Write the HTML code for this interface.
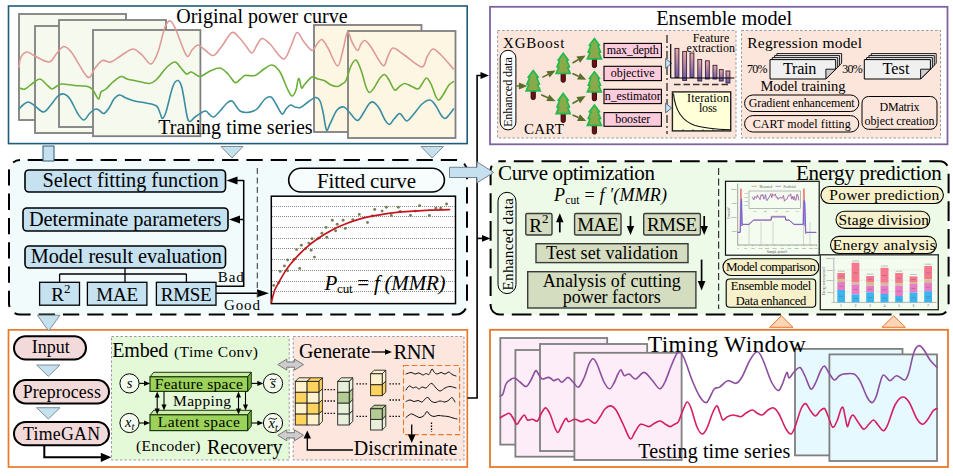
<!DOCTYPE html>
<html><head><meta charset="utf-8"><title>Framework</title>
<style>
html,body{margin:0;padding:0;background:#fff;}
body{width:953px;height:476px;overflow:hidden;font-family:"Liberation Serif",serif;}
svg{display:block;}
svg text{font-family:"Liberation Serif",serif;}
</style></head><body>
<svg width="953" height="476" viewBox="0 0 953 476">
<defs>
<linearGradient id="barg" x1="0" y1="0" x2="0" y2="1"><stop offset="0" stop-color="#EFA8A0"/><stop offset="1" stop-color="#6E55A8"/></linearGradient>
<linearGradient id="treeg" x1="0" y1="0" x2="0" y2="1"><stop offset="0" stop-color="#7FB24E"/><stop offset="1" stop-color="#8FA548"/></linearGradient>
</defs>
<rect x="0" y="0" width="953" height="476" fill="#fff"/>

<rect x="8.5" y="6.0" width="458.7" height="137.6" fill="#fff" stroke="#1F5C7A" stroke-width="1.6" rx="0" />
<rect x="19.0" y="14.0" width="107.0" height="106.0" fill="#F6F9EE" stroke="#7F7F7F" stroke-width="1.8" rx="0" />
<rect x="35.0" y="26.0" width="107.0" height="107.0" fill="#F6F9EE" stroke="#7F7F7F" stroke-width="1.8" rx="0" />
<rect x="59.0" y="20.0" width="107.0" height="107.0" fill="#F6F9EE" stroke="#7F7F7F" stroke-width="1.8" rx="0" />
<rect x="93.0" y="30.0" width="107.4" height="106.2" fill="#F6F9EE" stroke="#7F7F7F" stroke-width="1.8" rx="0" />
<rect x="314.0" y="25.0" width="107.5" height="107.0" fill="#FDF6E3" stroke="#7F7F7F" stroke-width="1.8" rx="0" />
<rect x="348.0" y="31.0" width="107.5" height="107.0" fill="#FDF6E3" stroke="#7F7F7F" stroke-width="1.8" rx="0" />
<path d="M19.0,67.0 C19.3,65.3 19.7,59.5 21.0,57.0 C22.3,54.5 24.8,52.2 27.0,52.0 C29.2,51.8 30.3,53.8 34.0,55.5 C37.7,57.2 45.2,62.4 49.0,62.0 C52.8,61.6 54.5,55.6 57.0,53.0 C59.5,50.4 61.5,46.5 64.0,46.5 C66.5,46.5 68.1,47.9 72.0,53.0 C75.9,58.1 83.7,74.5 87.5,77.0 C91.3,79.5 92.5,70.8 95.0,68.0 C97.5,65.2 99.8,61.5 102.5,60.5 C105.2,59.5 107.8,62.9 111.0,62.0 C114.2,61.1 118.3,57.2 122.0,55.0 C125.7,52.8 129.7,49.0 133.0,49.0 C136.3,49.0 139.0,52.5 142.0,55.0 C145.0,57.5 148.3,64.5 151.0,64.0 C153.7,63.5 155.7,58.2 158.0,52.0 C160.3,45.8 162.9,32.2 165.0,27.0 C167.1,21.8 168.7,20.5 170.5,21.0 C172.3,21.5 173.3,24.2 176.0,30.0 C178.7,35.8 183.8,52.2 186.5,55.5 C189.2,58.8 190.1,51.8 192.0,50.0 C193.9,48.2 195.8,45.0 198.0,45.0 C200.2,45.0 202.4,48.2 205.0,50.0 C207.6,51.8 210.7,56.2 213.5,55.5 C216.3,54.8 218.9,49.8 222.0,46.0 C225.1,42.2 229.0,33.8 232.0,32.5 C235.0,31.2 237.7,36.2 240.0,38.5 C242.3,40.8 244.0,43.6 246.0,46.0 C248.0,48.4 250.2,53.2 252.0,53.0 C253.8,52.8 255.3,47.4 257.0,45.0 C258.7,42.6 259.8,38.7 262.0,38.5 C264.2,38.3 266.4,40.6 270.0,44.0 C273.6,47.4 280.0,58.7 283.5,59.0 C287.0,59.3 288.8,50.4 291.0,46.0 C293.2,41.6 294.8,33.2 297.0,32.5 C299.2,31.8 301.5,39.0 304.0,42.0 C306.5,45.0 309.8,50.2 312.0,50.5 C314.2,50.8 315.3,45.8 317.0,44.0 C318.7,42.2 320.2,38.8 322.0,39.5 C323.8,40.2 325.4,43.6 328.0,48.0 C330.6,52.4 335.0,65.7 337.5,66.0 C340.0,66.3 341.3,55.7 343.0,50.0 C344.7,44.3 346.0,33.3 347.5,32.0 C349.0,30.7 350.3,38.9 352.0,42.0 C353.7,45.1 356.0,50.2 357.5,50.5 C359.0,50.8 359.8,45.7 361.0,44.0 C362.2,42.3 363.3,40.0 365.0,40.5 C366.7,41.0 368.0,42.8 371.0,47.0 C374.0,51.2 380.2,64.0 383.0,65.5 C385.8,67.0 386.3,58.9 388.0,56.0 C389.7,53.1 390.5,48.3 393.0,48.0 C395.5,47.7 398.2,50.8 403.0,54.0 C407.8,57.2 417.5,66.5 421.5,67.0 C425.5,67.5 425.1,60.0 427.0,57.0 C428.9,54.0 430.7,49.3 433.0,49.0 C435.3,48.7 437.6,51.7 441.0,55.0 C444.4,58.3 451.4,66.7 453.5,69.0" fill="none" stroke="#DE9A97" stroke-width="1.6" stroke-linecap="round" stroke-linejoin="round" />
<path d="M19.0,88.0 C20.0,88.2 22.7,89.8 25.0,89.0 C27.3,88.2 30.5,84.7 33.0,83.0 C35.5,81.3 37.8,78.8 40.0,79.0 C42.2,79.2 44.0,82.3 46.0,84.0 C48.0,85.7 50.2,88.7 52.0,89.0 C53.8,89.3 55.3,86.8 57.0,86.0 C58.7,85.2 59.0,84.1 62.0,84.0 C65.0,83.9 70.8,85.1 75.0,85.5 C79.2,85.9 84.5,85.8 87.5,86.5 C90.5,87.2 91.2,87.9 93.0,90.0 C94.8,92.1 97.2,98.7 98.5,99.0 C99.8,99.3 99.8,93.7 101.0,92.0 C102.2,90.3 104.0,90.7 106.0,89.0 C108.0,87.3 110.5,84.1 113.0,82.0 C115.5,79.9 118.7,77.0 121.0,76.5 C123.3,76.0 124.8,78.3 127.0,79.0 C129.2,79.7 130.8,79.8 134.5,80.5 C138.2,81.2 145.8,83.8 149.5,83.5 C153.2,83.2 154.1,81.8 157.0,79.0 C159.9,76.2 164.0,69.8 167.0,67.0 C170.0,64.2 172.7,61.8 175.0,62.0 C177.3,62.2 179.1,66.0 181.0,68.0 C182.9,70.0 184.8,73.3 186.5,74.0 C188.2,74.7 189.2,71.6 191.5,72.0 C193.8,72.4 196.9,76.7 200.0,76.5 C203.1,76.3 206.7,72.4 210.0,71.0 C213.3,69.6 217.0,67.5 220.0,68.0 C223.0,68.5 225.5,71.6 228.0,74.0 C230.5,76.4 233.0,81.6 235.0,82.5 C237.0,83.4 238.3,80.7 240.0,79.5 C241.7,78.3 242.5,76.2 245.0,75.5 C247.5,74.8 251.8,76.6 255.0,75.5 C258.2,74.4 261.2,70.8 264.0,69.0 C266.8,67.2 269.3,64.5 272.0,65.0 C274.7,65.5 277.5,68.2 280.0,72.0 C282.5,75.8 285.0,84.0 287.0,88.0 C289.0,92.0 290.5,95.7 292.0,96.0 C293.5,96.3 295.0,92.7 296.0,90.0 C297.0,87.3 297.4,81.8 298.0,80.0 C298.6,78.2 298.9,78.2 299.5,79.5 C300.1,80.8 300.6,87.2 301.5,88.0 C302.4,88.8 303.2,85.8 305.0,84.0 C306.8,82.2 309.8,77.8 312.0,77.0 C314.2,76.2 316.0,78.4 318.0,79.0 C320.0,79.6 321.8,79.5 324.0,80.5 C326.2,81.5 328.8,84.0 331.0,85.0 C333.2,86.0 335.7,86.7 337.5,86.5 C339.3,86.3 340.6,85.0 342.0,84.0 C343.4,83.0 344.5,83.5 346.0,80.5 C347.5,77.5 349.3,69.4 351.0,66.0 C352.7,62.6 354.3,59.3 356.0,60.0 C357.7,60.7 359.3,65.5 361.0,70.0 C362.7,74.5 364.6,83.2 366.0,87.0 C367.4,90.8 368.2,92.3 369.5,92.5 C370.8,92.7 372.2,90.4 374.0,88.0 C375.8,85.6 378.2,80.2 380.0,78.0 C381.8,75.8 383.0,74.2 384.5,74.5 C386.0,74.8 387.3,77.4 389.0,80.0 C390.7,82.6 392.8,88.8 394.5,90.0 C396.2,91.2 397.3,88.1 399.0,87.0 C400.7,85.9 402.5,83.7 404.5,83.5 C406.5,83.3 408.8,85.1 411.0,86.0 C413.2,86.9 416.2,89.3 418.0,89.0 C419.8,88.7 420.6,85.8 422.0,84.0 C423.4,82.2 425.0,78.0 426.5,78.0 C428.0,78.0 429.4,80.8 431.0,84.0 C432.6,87.2 434.7,94.3 436.0,97.0 C437.3,99.7 437.8,100.3 439.0,100.0 C440.2,99.7 441.3,97.5 443.0,95.0 C444.7,92.5 447.2,87.2 449.0,85.0 C450.8,82.8 452.8,82.1 453.5,81.5" fill="none" stroke="#6BAE38" stroke-width="1.6" stroke-linecap="round" stroke-linejoin="round" />
<path d="M19.0,109.0 C19.7,108.3 21.4,106.2 23.0,105.0 C24.6,103.8 26.5,101.8 28.5,102.0 C30.5,102.2 32.5,104.3 35.0,106.0 C37.5,107.7 41.0,112.0 43.5,112.0 C46.0,112.0 47.6,108.7 50.0,106.0 C52.4,103.3 55.7,98.0 58.0,96.0 C60.3,94.0 62.0,93.5 64.0,94.0 C66.0,94.5 67.7,95.7 70.0,99.0 C72.3,102.3 75.7,110.5 78.0,114.0 C80.3,117.5 82.0,120.2 84.0,120.0 C86.0,119.8 88.0,114.8 90.0,113.0 C92.0,111.2 94.3,109.3 96.0,109.0 C97.7,108.7 98.7,110.2 100.0,111.0 C101.3,111.8 102.5,114.0 104.0,113.5 C105.5,113.0 107.3,110.4 109.0,108.0 C110.7,105.6 112.2,101.2 114.0,99.0 C115.8,96.8 117.5,95.2 119.5,95.0 C121.5,94.8 123.5,97.0 126.0,98.0 C128.5,99.0 131.2,100.2 134.5,101.0 C137.8,101.8 142.3,102.2 146.0,103.0 C149.7,103.8 154.2,104.3 156.5,106.0 C158.8,107.7 159.0,110.9 160.0,113.0 C161.0,115.1 161.5,118.7 162.5,118.5 C163.5,118.3 164.2,117.4 166.0,112.0 C167.8,106.6 171.0,91.2 173.0,86.0 C175.0,80.8 176.5,80.2 178.0,80.5 C179.5,80.8 180.5,82.1 182.0,88.0 C183.5,93.9 185.7,110.4 187.0,116.0 C188.3,121.6 188.7,121.3 190.0,121.5 C191.3,121.7 192.5,118.8 195.0,117.0 C197.5,115.2 202.7,111.5 205.0,111.0 C207.3,110.5 207.6,113.0 209.0,114.0 C210.4,115.0 211.7,117.5 213.5,117.0 C215.3,116.5 217.8,113.3 220.0,111.0 C222.2,108.7 225.0,104.7 227.0,103.0 C229.0,101.3 230.5,100.5 232.0,101.0 C233.5,101.5 234.7,104.3 236.0,106.0 C237.3,107.7 238.2,109.9 240.0,111.0 C241.8,112.1 244.2,112.5 246.5,112.5 C248.8,112.5 251.6,111.8 253.5,111.0 C255.4,110.2 256.1,110.0 258.0,108.0 C259.9,106.0 262.8,100.8 265.0,99.0 C267.2,97.2 269.2,96.2 271.0,97.0 C272.8,97.8 274.2,101.2 276.0,104.0 C277.8,106.8 280.3,113.2 282.0,114.0 C283.7,114.8 284.6,110.5 286.0,109.0 C287.4,107.5 289.0,105.3 290.5,105.0 C292.0,104.7 293.3,106.6 295.0,107.0 C296.7,107.4 298.3,108.3 300.5,107.5 C302.7,106.7 305.5,103.7 308.0,102.0 C310.5,100.3 313.5,97.7 315.5,97.5 C317.5,97.3 318.8,98.6 320.0,101.0 C321.2,103.4 321.9,107.2 323.0,112.0 C324.1,116.8 325.3,128.0 326.5,130.0 C327.7,132.0 328.2,127.3 330.0,124.0 C331.8,120.7 334.7,112.8 337.0,110.0 C339.3,107.2 341.8,106.5 344.0,107.0 C346.2,107.5 347.8,110.8 350.0,113.0 C352.2,115.2 355.2,120.7 357.5,120.5 C359.8,120.3 362.1,114.8 364.0,112.0 C365.9,109.2 367.5,105.7 369.0,104.0 C370.5,102.3 371.3,101.3 373.0,102.0 C374.7,102.7 377.0,105.0 379.0,108.0 C381.0,111.0 383.2,117.2 385.0,120.0 C386.8,122.8 388.0,124.7 389.5,124.5 C391.0,124.3 392.3,120.8 394.0,119.0 C395.7,117.2 398.0,113.8 399.5,113.5 C401.0,113.2 401.8,115.8 403.0,117.0 C404.2,118.2 405.3,121.3 407.0,121.0 C408.7,120.7 410.5,117.8 413.0,115.0 C415.5,112.2 419.2,106.5 422.0,104.0 C424.8,101.5 427.7,99.7 430.0,100.0 C432.3,100.3 434.2,103.5 436.0,106.0 C437.8,108.5 439.5,112.9 441.0,115.0 C442.5,117.1 443.7,118.5 445.0,118.5 C446.3,118.5 447.6,116.6 449.0,115.0 C450.4,113.4 452.8,110.0 453.5,109.0" fill="none" stroke="#3A8CA3" stroke-width="1.6" stroke-linecap="round" stroke-linejoin="round" />
<text x="176.2" y="23.4" font-size="20" fill="#000" textLength="171.5" lengthAdjust="spacing" >Original power curve</text>
<text x="158.3" y="134.3" font-size="20" fill="#000" textLength="154.3" lengthAdjust="spacing" >Traning time series</text>
<rect x="9" y="160" width="458" height="154.6" rx="11" fill="#F1FBFC" stroke="#000" stroke-width="2" stroke-dasharray="16.3 8" stroke-dashoffset="16.6"/>
<rect x="43.0" y="146.0" width="11.0" height="15.0" fill="#C6E0F0" stroke="#2F5A78" stroke-width="1" rx="0" />
<path d="M221.0,146.5 L243.0,146.5 L232.0,158.0 Z" fill="#C5E1EE" stroke="#7E8E9A" stroke-width="1" stroke-linejoin="miter" />
<path d="M421.0,146.5 L443.5,146.5 L432.2,158.0 Z" fill="#C5E1EE" stroke="#7E8E9A" stroke-width="1" stroke-linejoin="miter" />
<rect x="25.0" y="170.0" width="200.5" height="22.0" fill="#C6E1F0" stroke="#000" stroke-width="1.6" rx="4" />
<rect x="23.0" y="208.0" width="205.0" height="23.0" fill="#C6E1F0" stroke="#000" stroke-width="1.6" rx="4" />
<rect x="25.0" y="246.0" width="200.5" height="22.0" fill="#C6E1F0" stroke="#000" stroke-width="1.6" rx="4" />
<text x="130.6" y="187.3" font-size="20.3" fill="#000" textLength="176.0" lengthAdjust="spacing" text-anchor="middle" >Select fitting function</text>
<text x="125.2" y="225.6" font-size="20.3" fill="#000" textLength="192.5" lengthAdjust="spacing" text-anchor="middle" >Determinate parameters</text>
<text x="126.3" y="263.3" font-size="20.3" fill="#000" textLength="191.0" lengthAdjust="spacing" text-anchor="middle" >Model result evaluation</text>
<line x1="125.0" y1="268.0" x2="125.0" y2="274.0" stroke="#000" stroke-width="1.3" />
<line x1="59.6" y1="274.0" x2="186.4" y2="274.0" stroke="#000" stroke-width="1.3" />
<line x1="59.6" y1="274.0" x2="59.6" y2="282.0" stroke="#000" stroke-width="1.3" />
<line x1="125.0" y1="274.0" x2="125.0" y2="282.0" stroke="#000" stroke-width="1.3" />
<line x1="186.4" y1="274.0" x2="186.4" y2="282.0" stroke="#000" stroke-width="1.3" />
<rect x="39.6" y="282.3" width="39.9" height="22.9" fill="#C6E1F0" stroke="#000" stroke-width="1.3" rx="0" />
<rect x="87.4" y="282.3" width="59.5" height="22.9" fill="#C6E1F0" stroke="#000" stroke-width="1.3" rx="0" />
<rect x="156.4" y="282.3" width="59.6" height="22.9" fill="#C6E1F0" stroke="#000" stroke-width="1.3" rx="0" />
<text x="51.3" y="301" font-size="19">R<tspan font-size="13" dy="-8.3">2</tspan></text>
<text x="117.2" y="300.5" font-size="19" fill="#000" textLength="42.0" lengthAdjust="spacing" text-anchor="middle" >MAE</text>
<text x="186.2" y="300.5" font-size="19" fill="#000" textLength="51.0" lengthAdjust="spacing" text-anchor="middle" >RMSE</text>
<path d="M216,286.3 H243.7 V180" fill="none" stroke="#000" stroke-width="1.5"/>
<line x1="243.7" y1="180.5" x2="234.0" y2="180.5" stroke="#000" stroke-width="1.5" />
<path d="M226.5,180.5 L237.5,176.5 L237.5,184.5 Z" fill="#000" stroke="none" stroke-width="0" stroke-linejoin="miter" />
<line x1="243.7" y1="219.5" x2="236.0" y2="219.5" stroke="#000" stroke-width="1.5" />
<path d="M229.0,219.5 L240.0,215.5 L240.0,223.5 Z" fill="#000" stroke="none" stroke-width="0" stroke-linejoin="miter" />
<line x1="216.0" y1="293.2" x2="260.0" y2="293.2" stroke="#000" stroke-width="1.5" />
<path d="M269.0,293.2 L257.0,289.2 L257.0,297.2 Z" fill="#000" stroke="none" stroke-width="0" stroke-linejoin="miter" />
<text x="217.8" y="282.2" font-size="15" fill="#000" textLength="26.0" lengthAdjust="spacing" >Bad</text>
<text x="224.0" y="310.0" font-size="15" fill="#000" textLength="36.0" lengthAdjust="spacing" >Good</text>
<line x1="257.3" y1="168.0" x2="257.3" y2="300.0" stroke="#444" stroke-width="1.1" stroke-dasharray="6 3.5"/>
<rect x="288.7" y="168.3" width="155.7" height="23.7" fill="#F7FCFD" stroke="#000" stroke-width="1.6" rx="12" />
<text x="366.5" y="188.0" font-size="21" fill="#000" textLength="99.0" lengthAdjust="spacing" text-anchor="middle" >Fitted curve</text>
<rect x="271.3" y="196.2" width="184.2" height="107.4" fill="#fff" stroke="#000" stroke-width="1.5" rx="0" />
<line x1="272.0" y1="206.5" x2="455.0" y2="206.5" stroke="#8A8A8A" stroke-width="1" stroke-dasharray="1 1" shape-rendering="crispEdges"/>
<line x1="272.0" y1="216.5" x2="455.0" y2="216.5" stroke="#8A8A8A" stroke-width="1" stroke-dasharray="1 1" shape-rendering="crispEdges"/>
<line x1="272.0" y1="227.5" x2="455.0" y2="227.5" stroke="#8A8A8A" stroke-width="1" stroke-dasharray="1 1" shape-rendering="crispEdges"/>
<line x1="272.0" y1="238.5" x2="455.0" y2="238.5" stroke="#8A8A8A" stroke-width="1" stroke-dasharray="1 1" shape-rendering="crispEdges"/>
<line x1="272.0" y1="248.5" x2="455.0" y2="248.5" stroke="#8A8A8A" stroke-width="1" stroke-dasharray="1 1" shape-rendering="crispEdges"/>
<line x1="272.0" y1="259.5" x2="455.0" y2="259.5" stroke="#8A8A8A" stroke-width="1" stroke-dasharray="1 1" shape-rendering="crispEdges"/>
<line x1="272.0" y1="270.5" x2="455.0" y2="270.5" stroke="#8A8A8A" stroke-width="1" stroke-dasharray="1 1" shape-rendering="crispEdges"/>
<line x1="272.0" y1="281.5" x2="455.0" y2="281.5" stroke="#8A8A8A" stroke-width="1" stroke-dasharray="1 1" shape-rendering="crispEdges"/>
<line x1="272.0" y1="291.5" x2="455.0" y2="291.5" stroke="#8A8A8A" stroke-width="1" stroke-dasharray="1 1" shape-rendering="crispEdges"/>
<circle cx="273.7" cy="285.4" r="1.45" fill="#73805A"/>
<circle cx="278.6" cy="282.8" r="1.45" fill="#73805A"/>
<circle cx="280.2" cy="271.4" r="1.45" fill="#73805A"/>
<circle cx="284.4" cy="265.9" r="1.45" fill="#73805A"/>
<circle cx="287.7" cy="270.7" r="1.45" fill="#73805A"/>
<circle cx="287.7" cy="260.0" r="1.45" fill="#73805A"/>
<circle cx="294.2" cy="259.3" r="1.45" fill="#73805A"/>
<circle cx="296.5" cy="249.6" r="1.45" fill="#73805A"/>
<circle cx="299.7" cy="268.5" r="1.45" fill="#73805A"/>
<circle cx="301.4" cy="245.3" r="1.45" fill="#73805A"/>
<circle cx="305.6" cy="248.6" r="1.45" fill="#73805A"/>
<circle cx="308.9" cy="243.1" r="1.45" fill="#73805A"/>
<circle cx="311.1" cy="250.2" r="1.45" fill="#73805A"/>
<circle cx="312.1" cy="238.8" r="1.45" fill="#73805A"/>
<circle cx="314.4" cy="257.1" r="1.45" fill="#73805A"/>
<circle cx="318.6" cy="238.2" r="1.45" fill="#73805A"/>
<circle cx="321.9" cy="233.3" r="1.45" fill="#73805A"/>
<circle cx="326.1" cy="227.4" r="1.45" fill="#73805A"/>
<circle cx="326.8" cy="237.2" r="1.45" fill="#73805A"/>
<circle cx="332.3" cy="220.3" r="1.45" fill="#73805A"/>
<circle cx="335.6" cy="230.7" r="1.45" fill="#73805A"/>
<circle cx="337.2" cy="224.2" r="1.45" fill="#73805A"/>
<circle cx="343.1" cy="220.3" r="1.45" fill="#73805A"/>
<circle cx="345.3" cy="228.4" r="1.45" fill="#73805A"/>
<circle cx="352.8" cy="219.6" r="1.45" fill="#73805A"/>
<circle cx="359.3" cy="214.4" r="1.45" fill="#73805A"/>
<circle cx="367.5" cy="222.5" r="1.45" fill="#73805A"/>
<circle cx="372.4" cy="216.0" r="1.45" fill="#73805A"/>
<circle cx="374.7" cy="209.5" r="1.45" fill="#73805A"/>
<circle cx="382.1" cy="211.1" r="1.45" fill="#73805A"/>
<circle cx="386.4" cy="207.2" r="1.45" fill="#73805A"/>
<circle cx="391.3" cy="215.4" r="1.45" fill="#73805A"/>
<circle cx="398.4" cy="207.2" r="1.45" fill="#73805A"/>
<circle cx="400.1" cy="211.5" r="1.45" fill="#73805A"/>
<circle cx="410.5" cy="215.4" r="1.45" fill="#73805A"/>
<circle cx="415.4" cy="211.1" r="1.45" fill="#73805A"/>
<circle cx="419.6" cy="205.6" r="1.45" fill="#73805A"/>
<circle cx="429.4" cy="215.4" r="1.45" fill="#73805A"/>
<circle cx="435.9" cy="208.2" r="1.45" fill="#73805A"/>
<circle cx="440.8" cy="208.2" r="1.45" fill="#73805A"/>
<circle cx="446.6" cy="204.0" r="1.45" fill="#73805A"/>
<path d="M271.4,302.3 C271.9,300.3 273.3,293.8 274.7,290.3 C276.1,286.8 277.6,284.6 279.5,281.2 C281.4,277.8 283.8,273.4 286.0,270.1 C288.2,266.8 290.2,264.5 292.6,261.6 C295.1,258.7 298.0,255.5 300.7,252.8 C303.4,250.1 306.2,247.6 308.9,245.3 C311.6,243.0 314.3,241.1 317.0,239.2 C319.7,237.3 322.1,235.7 325.1,233.9 C328.1,232.1 331.6,230.0 334.9,228.4 C338.2,226.8 340.9,225.7 344.7,224.2 C348.5,222.7 353.4,220.9 357.7,219.6 C362.0,218.3 366.3,217.3 370.7,216.4 C375.1,215.5 379.4,214.8 383.8,214.1 C388.2,213.4 391.9,212.9 396.8,212.4 C401.7,211.9 407.7,211.5 413.1,211.1 C418.5,210.7 423.3,210.5 429.4,210.2 C435.5,209.9 446.2,209.6 449.6,209.5" fill="none" stroke="#C4161C" stroke-width="1.7" stroke-linecap="round" stroke-linejoin="round" />
<text x="324.5" y="290" font-size="21" font-style="italic" textLength="121" lengthAdjust="spacing">P<tspan font-size="13" font-style="normal" dy="3">cut</tspan><tspan dy="-3" font-style="normal"> = </tspan>f (MMR)</text>
<rect x="8.5" y="329.9" width="458.8" height="137.1" fill="#fff" stroke="#E9782B" stroke-width="1.7" rx="0" />
<path d="M37.3,315.2 L60.0,315.2 L48.6,331.0 Z" fill="#C5E1EE" stroke="#7E8E9A" stroke-width="1" stroke-linejoin="miter" />
<rect x="14.0" y="336.3" width="72.0" height="23.2" fill="#F2DADB" stroke="#000" stroke-width="2" rx="11.6" />
<rect x="14.0" y="380.0" width="95.0" height="23.5" fill="#F2DADB" stroke="#000" stroke-width="2" rx="11.7" />
<rect x="14.0" y="422.0" width="95.0" height="23.3" fill="#F2DADB" stroke="#000" stroke-width="2" rx="11.6" />
<text x="50.8" y="353.2" font-size="18" fill="#000" textLength="38.0" lengthAdjust="spacing" text-anchor="middle" >Input</text>
<text x="61.8" y="398.0" font-size="17.8" fill="#000" textLength="78.0" lengthAdjust="spacing" text-anchor="middle" >Preprocess</text>
<text x="61.5" y="440.0" font-size="17.8" fill="#000" textLength="77.0" lengthAdjust="spacing" text-anchor="middle" >TimeGAN</text>
<path d="M36.6,365.0 L60.0,365.0 L48.3,376.3 Z" fill="#C5E1EE" stroke="#7E8E9A" stroke-width="1" stroke-linejoin="miter" />
<path d="M36.6,407.7 L60.0,407.7 L48.3,419.0 Z" fill="#C5E1EE" stroke="#7E8E9A" stroke-width="1" stroke-linejoin="miter" />
<path d="M44.3,445.5 V457.3 H102" fill="none" stroke="#000" stroke-width="2"/>
<path d="M111.3,457.3 L100.8,452.7 L100.8,461.9 Z" fill="#000" stroke="none" stroke-width="0" stroke-linejoin="miter" />
<rect x="111.5" y="336.5" width="177.7" height="123.5" fill="#E4F9D7" stroke="#9A9A9A" stroke-width="1" rx="0" stroke-dasharray="2.5 2"/>
<text x="112.3" y="357.0" font-size="20" fill="#000" textLength="56.0" lengthAdjust="spacing" >Embed</text>
<text x="174.0" y="357.0" font-size="15.5" fill="#000" textLength="84.0" lengthAdjust="spacing" >(Time Conv)</text>
<path d="M150.0,376.8 L153.7,372.3 L251.3,372.3 L247.6,376.8 Z" fill="#CDECAB" stroke="#1F3A10" stroke-width="1" stroke-linejoin="miter" />
<path d="M247.6,376.8 L251.3,372.3 L251.3,386.9 L247.6,391.4 Z" fill="#6FB03C" stroke="#1F3A10" stroke-width="1" stroke-linejoin="miter" />
<rect x="150.0" y="376.8" width="97.6" height="14.6" fill="#9BD259" stroke="#1F3A10" stroke-width="1.2" rx="0" />
<path d="M150.0,414.8 L153.7,410.3 L251.3,410.3 L247.6,414.8 Z" fill="#CDECAB" stroke="#1F3A10" stroke-width="1" stroke-linejoin="miter" />
<path d="M247.6,414.8 L251.3,410.3 L251.3,426.1 L247.6,430.6 Z" fill="#6FB03C" stroke="#1F3A10" stroke-width="1" stroke-linejoin="miter" />
<rect x="150.0" y="414.8" width="97.6" height="15.8" fill="#9BD259" stroke="#1F3A10" stroke-width="1.2" rx="0" />
<text x="198.8" y="388.5" font-size="15.5" fill="#000" textLength="88.0" lengthAdjust="spacing" text-anchor="middle" >Feature space</text>
<text x="198.8" y="426.6" font-size="15.5" fill="#000" textLength="82.0" lengthAdjust="spacing" text-anchor="middle" >Latent space</text>
<text x="202.0" y="405.7" font-size="15.5" fill="#000" textLength="58.0" lengthAdjust="spacing" text-anchor="middle" >Mapping</text>
<circle cx="129.5" cy="383.4" r="9.6" fill="#F4FCEF" stroke="#000" stroke-width="1"/>
<circle cx="129.5" cy="423.0" r="9.6" fill="#F4FCEF" stroke="#000" stroke-width="1"/>
<circle cx="273.0" cy="383.4" r="9.6" fill="#F4FCEF" stroke="#000" stroke-width="1"/>
<circle cx="273.0" cy="423.0" r="9.6" fill="#F4FCEF" stroke="#000" stroke-width="1"/>
<text x="129.5" y="387.5" font-size="14.5" fill="#000" font-style="italic" text-anchor="middle" >s</text>
<text x="125" y="427" font-size="14.5" font-style="italic">x<tspan font-size="10.5" dy="3">t</tspan></text>
<text x="273.0" y="388.2" font-size="14.5" fill="#000" font-style="italic" text-anchor="middle" >s</text>
<path d="M269.8,380 q1.7,-1.9 3.3,-0.6 q1.7,1.3 3.3,-0.6" fill="none" stroke="#000" stroke-width="0.9"/>
<text x="268.5" y="427.8" font-size="14.5" font-style="italic">x<tspan font-size="10.5" dy="3">t</tspan></text>
<path d="M268.5,419.4 q2.2,-2 4.3,-0.6 q2.2,1.4 4.3,-0.6" fill="none" stroke="#000" stroke-width="0.9"/>
<line x1="139.2" y1="383.4" x2="145.0" y2="383.4" stroke="#000" stroke-width="1.1" />
<path d="M150.0,383.4 L144.0,380.8 L144.0,386.0 Z" fill="#000" stroke="none" stroke-width="0" stroke-linejoin="miter" />
<line x1="251.5" y1="383.4" x2="258.0" y2="383.4" stroke="#000" stroke-width="1.1" />
<path d="M263.3,383.4 L257.3,380.8 L257.3,386.0 Z" fill="#000" stroke="none" stroke-width="0" stroke-linejoin="miter" />
<line x1="139.2" y1="423.0" x2="145.0" y2="423.0" stroke="#000" stroke-width="1.1" />
<path d="M150.0,423.0 L144.0,420.4 L144.0,425.6 Z" fill="#000" stroke="none" stroke-width="0" stroke-linejoin="miter" />
<line x1="251.5" y1="423.0" x2="258.0" y2="423.0" stroke="#000" stroke-width="1.1" />
<path d="M263.3,423.0 L257.3,420.4 L257.3,425.6 Z" fill="#000" stroke="none" stroke-width="0" stroke-linejoin="miter" />
<line x1="157.2" y1="396.0" x2="157.2" y2="410.0" stroke="#000" stroke-width="1.1" />
<path d="M157.2,391.6 L154.7,397.6 L159.7,397.6 Z" fill="#000" stroke="none" stroke-width="0" stroke-linejoin="miter" />
<path d="M157.2,414.6 L154.7,408.6 L159.7,408.6 Z" fill="#000" stroke="none" stroke-width="0" stroke-linejoin="miter" />
<line x1="238.5" y1="396.0" x2="238.5" y2="410.0" stroke="#000" stroke-width="1.1" />
<path d="M238.5,391.6 L236.0,397.6 L241.0,397.6 Z" fill="#000" stroke="none" stroke-width="0" stroke-linejoin="miter" />
<path d="M238.5,414.6 L236.0,408.6 L241.0,408.6 Z" fill="#000" stroke="none" stroke-width="0" stroke-linejoin="miter" />
<line x1="164.0" y1="391.5" x2="164.0" y2="406.0" stroke="#000" stroke-width="1.1" />
<path d="M164.0,410.5 L161.5,404.5 L166.5,404.5 Z" fill="#000" stroke="none" stroke-width="0" stroke-linejoin="miter" />
<line x1="245.5" y1="391.5" x2="245.5" y2="406.0" stroke="#000" stroke-width="1.1" />
<path d="M245.5,410.5 L243.0,404.5 L248.0,404.5 Z" fill="#000" stroke="none" stroke-width="0" stroke-linejoin="miter" />
<text x="136.0" y="451.3" font-size="15.5" fill="#000" textLength="64.5" lengthAdjust="spacing" >(Encoder)</text>
<text x="207.0" y="453.5" font-size="20" fill="#000" textLength="75.5" lengthAdjust="spacing" >Recovery</text>
<rect x="293.2" y="336.5" width="170.8" height="123.5" fill="#FCE6DD" stroke="#9A9A9A" stroke-width="1" rx="0" stroke-dasharray="2.5 2"/>
<text x="299.0" y="357.5" font-size="20" fill="#000" textLength="71.5" lengthAdjust="spacing" >Generate</text>
<line x1="371.5" y1="352.0" x2="386.0" y2="352.0" stroke="#000" stroke-width="1.3" />
<path d="M392.0,352.0 L385.0,349.2 L385.0,354.8 Z" fill="#000" stroke="none" stroke-width="0" stroke-linejoin="miter" />
<text x="393.4" y="359.0" font-size="20.5" fill="#000" textLength="42.5" lengthAdjust="spacing" >RNN</text>
<path d="M277.8,364.6 L286.8,359.1 L286.8,362.0 L294.5,362.0 L294.5,359.1 L303.5,364.6 L294.5,370.1 L294.5,367.2 L286.8,367.2 L286.8,370.1 Z" fill="#CDCDCD" stroke="#7A7A7A" stroke-width="1" stroke-linejoin="miter" />
<path d="M277.8,435.3 L286.8,429.8 L286.8,432.7 L294.5,432.7 L294.5,429.8 L303.5,435.3 L294.5,440.8 L294.5,437.9 L286.8,437.9 L286.8,440.8 Z" fill="#CDCDCD" stroke="#7A7A7A" stroke-width="1" stroke-linejoin="miter" />
<path d="M295.3,381.4 L298.9,377.8 L310.7,377.8 L307.1,381.4 Z" fill="#FFF2CC" stroke="#222" stroke-width="0.9" stroke-linejoin="miter" />
<path d="M307.1,381.4 L310.7,377.8 L322.4,377.8 L318.8,381.4 Z" fill="#FFD45E" stroke="#222" stroke-width="0.9" stroke-linejoin="miter" />
<path d="M318.8,381.4 L322.4,377.8 L322.4,388.7 L318.8,392.3 Z" fill="#FFD45E" stroke="#222" stroke-width="0.9" stroke-linejoin="miter" />
<path d="M318.8,392.3 L322.4,388.7 L322.4,399.6 L318.8,403.2 Z" fill="#FFF2CC" stroke="#222" stroke-width="0.9" stroke-linejoin="miter" />
<path d="M318.8,403.2 L322.4,399.6 L322.4,410.5 L318.8,414.1 Z" fill="#FFD45E" stroke="#222" stroke-width="0.9" stroke-linejoin="miter" />
<path d="M318.8,414.1 L322.4,410.5 L322.4,421.4 L318.8,425.0 Z" fill="#FFF2CC" stroke="#222" stroke-width="0.9" stroke-linejoin="miter" />
<rect x="295.3" y="381.4" width="11.8" height="10.9" fill="#FFF2CC" stroke="#222" stroke-width="0.9" rx="0" />
<rect x="307.1" y="381.4" width="11.8" height="10.9" fill="#FFD45E" stroke="#222" stroke-width="0.9" rx="0" />
<rect x="295.3" y="392.3" width="11.8" height="10.9" fill="#FFD45E" stroke="#222" stroke-width="0.9" rx="0" />
<rect x="307.1" y="392.3" width="11.8" height="10.9" fill="#FFF2CC" stroke="#222" stroke-width="0.9" rx="0" />
<rect x="295.3" y="403.2" width="11.8" height="10.9" fill="#FFF2CC" stroke="#222" stroke-width="0.9" rx="0" />
<rect x="307.1" y="403.2" width="11.8" height="10.9" fill="#FFD45E" stroke="#222" stroke-width="0.9" rx="0" />
<rect x="295.3" y="414.1" width="11.8" height="10.9" fill="#FFD45E" stroke="#222" stroke-width="0.9" rx="0" />
<rect x="307.1" y="414.1" width="11.8" height="10.9" fill="#FFF2CC" stroke="#222" stroke-width="0.9" rx="0" />
<path d="M337.7,381.4 L341.3,377.8 L352.8,377.8 L349.2,381.4 Z" fill="#E8F0DC" stroke="#222" stroke-width="0.9" stroke-linejoin="miter" />
<path d="M349.2,381.4 L352.8,377.8 L352.8,388.7 L349.2,392.3 Z" fill="#E8F0DC" stroke="#222" stroke-width="0.9" stroke-linejoin="miter" />
<path d="M349.2,392.3 L352.8,388.7 L352.8,399.6 L349.2,403.2 Z" fill="#B4CC94" stroke="#222" stroke-width="0.9" stroke-linejoin="miter" />
<path d="M349.2,403.2 L352.8,399.6 L352.8,410.5 L349.2,414.1 Z" fill="#E8F0DC" stroke="#222" stroke-width="0.9" stroke-linejoin="miter" />
<path d="M349.2,414.1 L352.8,410.5 L352.8,421.4 L349.2,425.0 Z" fill="#E8F0DC" stroke="#222" stroke-width="0.9" stroke-linejoin="miter" />
<rect x="337.7" y="381.4" width="11.5" height="10.9" fill="#E8F0DC" stroke="#222" stroke-width="0.9" rx="0" />
<rect x="337.7" y="392.3" width="11.5" height="10.9" fill="#B4CC94" stroke="#222" stroke-width="0.9" rx="0" />
<rect x="337.7" y="403.2" width="11.5" height="10.9" fill="#E8F0DC" stroke="#222" stroke-width="0.9" rx="0" />
<rect x="337.7" y="414.1" width="11.5" height="10.9" fill="#E8F0DC" stroke="#222" stroke-width="0.9" rx="0" />
<path d="M370.6,373.8 L374.2,370.2 L385.8,370.2 L382.2,373.8 Z" fill="#FFF2CC" stroke="#222" stroke-width="0.9" stroke-linejoin="miter" />
<path d="M382.2,373.8 L385.8,370.2 L385.8,381.1 L382.2,384.8 Z" fill="#FFF2CC" stroke="#222" stroke-width="0.9" stroke-linejoin="miter" />
<path d="M382.2,384.8 L385.8,381.1 L385.8,392.1 L382.2,395.7 Z" fill="#FFD45E" stroke="#222" stroke-width="0.9" stroke-linejoin="miter" />
<rect x="370.6" y="373.8" width="11.6" height="10.9" fill="#FFF2CC" stroke="#222" stroke-width="0.9" rx="0" />
<rect x="370.6" y="384.8" width="11.6" height="10.9" fill="#FFD45E" stroke="#222" stroke-width="0.9" rx="0" />
<path d="M370.6,408.8 L374.2,405.2 L385.8,405.2 L382.2,408.8 Z" fill="#B4CC94" stroke="#222" stroke-width="0.9" stroke-linejoin="miter" />
<path d="M382.2,408.8 L385.8,405.2 L385.8,415.8 L382.2,419.4 Z" fill="#B4CC94" stroke="#222" stroke-width="0.9" stroke-linejoin="miter" />
<path d="M382.2,419.4 L385.8,415.8 L385.8,426.4 L382.2,430.0 Z" fill="#E8F0DC" stroke="#222" stroke-width="0.9" stroke-linejoin="miter" />
<rect x="370.6" y="408.8" width="11.6" height="10.6" fill="#B4CC94" stroke="#222" stroke-width="0.9" rx="0" />
<rect x="370.6" y="419.4" width="11.6" height="10.6" fill="#E8F0DC" stroke="#222" stroke-width="0.9" rx="0" />
<line x1="324.5" y1="389.6" x2="336.0" y2="389.6" stroke="#000" stroke-width="1.3" stroke-dasharray="1.4 1.6"/>
<line x1="324.5" y1="401.0" x2="336.0" y2="401.0" stroke="#000" stroke-width="1.3" stroke-dasharray="1.4 1.6"/>
<line x1="324.5" y1="413.4" x2="336.0" y2="413.4" stroke="#000" stroke-width="1.3" stroke-dasharray="1.4 1.6"/>
<line x1="356.5" y1="383.8" x2="368.0" y2="383.8" stroke="#000" stroke-width="1.3" stroke-dasharray="1.4 1.6"/>
<line x1="356.5" y1="416.4" x2="368.0" y2="416.4" stroke="#000" stroke-width="1.3" stroke-dasharray="1.4 1.6"/>
<line x1="389.5" y1="383.8" x2="401.0" y2="383.8" stroke="#000" stroke-width="1.3" stroke-dasharray="1.4 1.6"/>
<line x1="389.5" y1="400.0" x2="401.0" y2="400.0" stroke="#000" stroke-width="1.3" stroke-dasharray="1.4 1.6"/>
<line x1="389.5" y1="416.4" x2="401.0" y2="416.4" stroke="#000" stroke-width="1.3" stroke-dasharray="1.4 1.6"/>
<rect x="403.5" y="365.5" width="56.1" height="69.1" fill="none" stroke="#E9782B" stroke-width="1.1" rx="0" stroke-dasharray="5.5 2.8"/>
<path d="M406.0,374.0 C406.8,373.8 409.5,372.5 411.0,372.5 C412.5,372.5 413.7,373.9 415.0,374.0 C416.3,374.1 417.7,372.8 419.0,373.0 C420.3,373.2 421.8,374.9 423.0,375.0 C424.2,375.1 425.0,373.6 426.0,373.5 C427.0,373.4 428.0,375.2 429.0,374.5 C430.0,373.8 431.2,369.4 432.0,369.0 C432.8,368.6 433.2,371.2 434.0,372.0 C434.8,372.8 435.8,373.9 437.0,374.0 C438.2,374.1 439.7,372.5 441.0,372.5 C442.3,372.5 443.7,374.1 445.0,374.0 C446.3,373.9 447.8,371.9 449.0,372.0 C450.2,372.1 450.8,373.8 452.0,374.5 C453.2,375.2 455.3,375.8 456.0,376.0" fill="none" stroke="#111" stroke-width="1.0" stroke-linecap="round" stroke-linejoin="round" />
<path d="M406.0,390.0 C406.3,389.5 407.3,387.7 408.0,387.0 C408.7,386.3 409.2,385.8 410.0,386.0 C410.8,386.2 412.0,387.8 413.0,388.0 C414.0,388.2 415.0,386.8 416.0,387.0 C417.0,387.2 418.0,389.0 419.0,389.0 C420.0,389.0 420.8,387.2 422.0,387.0 C423.2,386.8 424.8,388.3 426.0,388.0 C427.2,387.7 428.0,385.8 429.0,385.0 C430.0,384.2 430.8,383.0 432.0,383.5 C433.2,384.0 434.7,386.8 436.0,388.0 C437.3,389.2 438.5,391.0 440.0,391.0 C441.5,391.0 443.3,388.8 445.0,388.0 C446.7,387.2 448.2,386.5 450.0,386.5 C451.8,386.5 455.0,387.8 456.0,388.0" fill="none" stroke="#111" stroke-width="1.0" stroke-linecap="round" stroke-linejoin="round" />
<path d="M406.0,401.5 C406.7,401.2 408.7,400.0 410.0,400.0 C411.3,400.0 412.7,401.4 414.0,401.5 C415.3,401.6 416.7,400.4 418.0,400.5 C419.3,400.6 420.8,402.2 422.0,402.0 C423.2,401.8 424.0,399.8 425.0,399.0 C426.0,398.2 427.0,397.2 428.0,397.5 C429.0,397.8 429.8,400.2 431.0,401.0 C432.2,401.8 433.5,402.5 435.0,402.5 C436.5,402.5 438.3,401.1 440.0,401.0 C441.7,400.9 443.5,402.2 445.0,402.0 C446.5,401.8 447.8,400.8 449.0,400.0 C450.2,399.2 451.0,397.2 452.0,397.5 C453.0,397.8 454.5,401.2 455.0,402.0" fill="none" stroke="#111" stroke-width="1.0" stroke-linecap="round" stroke-linejoin="round" />
<path d="M406.0,417.5 C406.5,417.1 408.0,415.6 409.0,415.0 C410.0,414.4 410.8,413.8 412.0,414.0 C413.2,414.2 414.7,415.4 416.0,416.0 C417.3,416.6 418.7,417.6 420.0,417.5 C421.3,417.4 422.8,416.5 424.0,415.5 C425.2,414.5 426.0,411.6 427.0,411.5 C428.0,411.4 428.8,414.2 430.0,415.0 C431.2,415.8 432.7,416.4 434.0,416.5 C435.3,416.6 436.5,415.6 438.0,415.5 C439.5,415.4 441.3,415.8 443.0,416.0 C444.7,416.2 446.3,416.2 448.0,416.5 C449.7,416.8 451.5,417.6 453.0,418.0 C454.5,418.4 456.3,418.8 457.0,419.0" fill="none" stroke="#111" stroke-width="1.0" stroke-linecap="round" stroke-linejoin="round" />
<line x1="411.7" y1="424.5" x2="411.7" y2="436.0" stroke="#000" stroke-width="1.3" />
<path d="M411.7,443.0 L407.9,434.5 L415.5,434.5 Z" fill="#000" stroke="none" stroke-width="0" stroke-linejoin="miter" />
<line x1="431.5" y1="422.5" x2="431.5" y2="432.0" stroke="#000" stroke-width="1.3" stroke-dasharray="1.4 1.6"/>
<text x="353.8" y="454.5" font-size="20" fill="#000" textLength="103.5" lengthAdjust="spacing" >Discriminate</text>
<path d="M353,450 H307.3 V437" fill="none" stroke="#000" stroke-width="1.3"/>
<path d="M307.3,430.5 L303.6,438.5 L311.0,438.5 Z" fill="#000" stroke="none" stroke-width="0" stroke-linejoin="miter" />
<path d="M467.5,398 H477.1 V75.5 H481" fill="none" stroke="#000" stroke-width="1.6"/>
<path d="M489.0,75.5 L480.5,72.1 L480.5,78.9 Z" fill="#000" stroke="none" stroke-width="0" stroke-linejoin="miter" />
<line x1="477.1" y1="238.4" x2="482.0" y2="238.4" stroke="#000" stroke-width="1.6" />
<path d="M490.5,238.4 L482.0,235.0 L482.0,241.8 Z" fill="#000" stroke="none" stroke-width="0" stroke-linejoin="miter" />
<rect x="490.0" y="6.8" width="457.5" height="137.5" fill="#fff" stroke="#7F63A1" stroke-width="1.8" rx="0" />
<text x="656.2" y="24.8" font-size="20.3" fill="#000" textLength="136.0" lengthAdjust="spacing" >Ensemble model</text>
<rect x="497.6" y="30.5" width="238.4" height="107.5" fill="#FCE6DB" stroke="#9A9A9A" stroke-width="1" rx="0" stroke-dasharray="2.5 2"/>
<rect x="741.5" y="30.5" width="199.0" height="107.5" fill="#FCE6DB" stroke="#9A9A9A" stroke-width="1" rx="0" stroke-dasharray="2.5 2"/>
<text x="503.1" y="47.8" font-size="15" fill="#000" textLength="61.3" lengthAdjust="spacing" >XGBoost</text>
<text x="523.9" y="134.2" font-size="15" fill="#000" textLength="40.0" lengthAdjust="spacing" >CART</text>
<rect x="500.2" y="50.3" width="15.7" height="79.6" fill="#fff" stroke="#000" stroke-width="1" rx="7.8" />
<text transform="translate(512,127) rotate(-90)" font-size="12.3" textLength="70" lengthAdjust="spacing">Enhanced data</text>
<line x1="516.3" y1="86.0" x2="518.9" y2="86.0" stroke="#5A6E2C" stroke-width="1.6" />
<path d="M527.4,86.0 L518.9,89.6 L518.9,82.4 Z" fill="#5A6E2C" stroke="none" stroke-width="0" stroke-linejoin="miter" />
<line x1="542.4" y1="77.4" x2="548.1" y2="74.4" stroke="#5A6E2C" stroke-width="1.6" />
<path d="M555.6,70.5 L549.7,77.6 L546.4,71.2 Z" fill="#5A6E2C" stroke="none" stroke-width="0" stroke-linejoin="miter" />
<line x1="541.2" y1="94.7" x2="547.9" y2="97.7" stroke="#5A6E2C" stroke-width="1.6" />
<path d="M555.6,101.2 L546.4,101.0 L549.3,94.4 Z" fill="#5A6E2C" stroke="none" stroke-width="0" stroke-linejoin="miter" />
<line x1="572.5" y1="63.0" x2="578.2" y2="59.7" stroke="#5A6E2C" stroke-width="1.6" />
<path d="M585.6,55.4 L580.1,62.8 L576.4,56.6 Z" fill="#5A6E2C" stroke="none" stroke-width="0" stroke-linejoin="miter" />
<line x1="572.5" y1="73.5" x2="578.5" y2="76.2" stroke="#5A6E2C" stroke-width="1.6" />
<path d="M586.3,79.7 L577.1,79.5 L580.0,72.9 Z" fill="#5A6E2C" stroke="none" stroke-width="0" stroke-linejoin="miter" />
<line x1="572.5" y1="103.5" x2="578.2" y2="100.2" stroke="#5A6E2C" stroke-width="1.6" />
<path d="M585.6,95.9 L580.1,103.3 L576.4,97.1 Z" fill="#5A6E2C" stroke="none" stroke-width="0" stroke-linejoin="miter" />
<line x1="572.5" y1="115.0" x2="578.5" y2="117.6" stroke="#5A6E2C" stroke-width="1.6" />
<path d="M586.3,120.9 L577.1,120.9 L579.9,114.2 Z" fill="#5A6E2C" stroke="none" stroke-width="0" stroke-linejoin="miter" />
<rect x="531.1" y="90.0" width="4.2" height="9.6" fill="#6E0F14" stroke="#1A0505" stroke-width="0.9" rx="1.8" />
<path d="M533.2,70.6 L538.2,77.3 L536.9,78.0 L539.4,84.1 L537.7,84.8 L540.2,90.8 L526.2,90.8 L528.7,84.8 L527.0,84.1 L529.5,78.0 L528.2,77.3 Z" fill="url(#treeg)" stroke="#22B84E" stroke-width="1.7" stroke-linejoin="miter" stroke-linejoin="round"/>
<rect x="561.1" y="72.7" width="4.2" height="9.6" fill="#6E0F14" stroke="#1A0505" stroke-width="0.9" rx="1.8" />
<path d="M563.2,53.3 L568.2,60.0 L566.9,60.7 L569.4,66.8 L567.7,67.5 L570.2,73.5 L556.2,73.5 L558.7,67.5 L557.0,66.8 L559.5,60.7 L558.2,60.0 Z" fill="url(#treeg)" stroke="#22B84E" stroke-width="1.7" stroke-linejoin="miter" stroke-linejoin="round"/>
<rect x="561.1" y="112.9" width="4.2" height="9.6" fill="#6E0F14" stroke="#1A0505" stroke-width="0.9" rx="1.8" />
<path d="M563.2,93.5 L568.2,100.2 L566.9,100.9 L569.4,107.0 L567.7,107.7 L570.2,113.7 L556.2,113.7 L558.7,107.7 L557.0,107.0 L559.5,100.9 L558.2,100.2 Z" fill="url(#treeg)" stroke="#22B84E" stroke-width="1.7" stroke-linejoin="miter" stroke-linejoin="round"/>
<rect x="592.3" y="58.0" width="4.2" height="9.6" fill="#6E0F14" stroke="#1A0505" stroke-width="0.9" rx="1.8" />
<path d="M594.4,38.6 L599.4,45.3 L598.1,46.0 L600.6,52.1 L598.9,52.8 L601.4,58.8 L587.4,58.8 L589.9,52.8 L588.2,52.1 L590.7,46.0 L589.4,45.3 Z" fill="url(#treeg)" stroke="#22B84E" stroke-width="1.7" stroke-linejoin="miter" stroke-linejoin="round"/>
<rect x="592.3" y="91.2" width="4.2" height="9.6" fill="#6E0F14" stroke="#1A0505" stroke-width="0.9" rx="1.8" />
<path d="M594.4,71.8 L599.4,78.5 L598.1,79.2 L600.6,85.3 L598.9,86.0 L601.4,92.0 L587.4,92.0 L589.9,86.0 L588.2,85.3 L590.7,79.2 L589.4,78.5 Z" fill="url(#treeg)" stroke="#22B84E" stroke-width="1.7" stroke-linejoin="miter" stroke-linejoin="round"/>
<rect x="592.3" y="124.5" width="4.2" height="9.6" fill="#6E0F14" stroke="#1A0505" stroke-width="0.9" rx="1.8" />
<path d="M594.4,105.1 L599.4,111.8 L598.1,112.5 L600.6,118.6 L598.9,119.3 L601.4,125.3 L587.4,125.3 L589.9,119.3 L588.2,118.6 L590.7,112.5 L589.4,111.8 Z" fill="url(#treeg)" stroke="#22B84E" stroke-width="1.7" stroke-linejoin="miter" stroke-linejoin="round"/>
<rect x="604.0" y="43.4" width="57.4" height="14.2" fill="#FECBDD" stroke="#000" stroke-width="1.1" rx="0" />
<text x="632.7" y="53.8" font-size="12" fill="#000" textLength="52.0" lengthAdjust="spacing" text-anchor="middle" >max_depth</text>
<rect x="604.0" y="66.3" width="57.4" height="14.3" fill="#FECBDD" stroke="#000" stroke-width="1.1" rx="0" />
<text x="632.7" y="76.8" font-size="12" fill="#000" textLength="44.0" lengthAdjust="spacing" text-anchor="middle" >objective</text>
<rect x="604.0" y="89.3" width="57.4" height="14.3" fill="#FECBDD" stroke="#000" stroke-width="1.1" rx="0" />
<text x="632.7" y="99.8" font-size="12" fill="#000" textLength="56.0" lengthAdjust="spacing" text-anchor="middle" >n_estimator</text>
<rect x="604.0" y="112.6" width="57.4" height="13.7" fill="#FECBDD" stroke="#000" stroke-width="1.1" rx="0" />
<text x="632.7" y="122.5" font-size="12" fill="#000" textLength="35.0" lengthAdjust="spacing" text-anchor="middle" >booster</text>
<line x1="667.0" y1="35.0" x2="667.0" y2="134.0" stroke="#444" stroke-width="1.5" stroke-dasharray="8 3 2 3"/>
<path d="M665.6,58.6 L665.6,68.2 L671.6,63.4 Z" fill="#C6E3F5" stroke="#46627A" stroke-width="0.9" stroke-linejoin="miter" />
<path d="M665.6,103.2 L665.6,112.8 L671.6,108.0 Z" fill="#C6E3F5" stroke="#46627A" stroke-width="0.9" stroke-linejoin="miter" />
<rect x="675.0" y="48.4" width="3.9" height="29.1" fill="url(#barg)" stroke="#2E2240" stroke-width="0.9" rx="0" />
<rect x="682.7" y="51.4" width="3.9" height="29.0" fill="url(#barg)" stroke="#2E2240" stroke-width="0.9" rx="0" />
<rect x="690.0" y="53.0" width="3.9" height="24.5" fill="url(#barg)" stroke="#2E2240" stroke-width="0.9" rx="0" />
<rect x="697.8" y="59.5" width="3.9" height="21.5" fill="url(#barg)" stroke="#2E2240" stroke-width="0.9" rx="0" />
<rect x="705.4" y="60.8" width="3.9" height="18.2" fill="url(#barg)" stroke="#2E2240" stroke-width="0.9" rx="0" />
<rect x="713.0" y="65.3" width="3.9" height="13.7" fill="url(#barg)" stroke="#2E2240" stroke-width="0.9" rx="0" />
<rect x="719.3" y="69.6" width="3.9" height="11.4" fill="url(#barg)" stroke="#2E2240" stroke-width="0.9" rx="0" />
<rect x="726.0" y="71.0" width="3.9" height="12.0" fill="url(#barg)" stroke="#2E2240" stroke-width="0.9" rx="0" />
<line x1="670.7" y1="44.0" x2="670.7" y2="78.0" stroke="#000" stroke-width="1.2" />
<line x1="670.7" y1="78.0" x2="734.3" y2="78.0" stroke="#000" stroke-width="1.2" />
<line x1="674.0" y1="84.5" x2="731.0" y2="84.5" stroke="#333" stroke-width="1.4" stroke-dasharray="6.5 3"/>
<text x="711.0" y="42.0" font-size="12" fill="#000" textLength="36.5" lengthAdjust="spacing" text-anchor="middle" >Feature</text>
<text x="710.8" y="52.0" font-size="12" fill="#000" textLength="48.5" lengthAdjust="spacing" text-anchor="middle" >extraction</text>
<rect x="672.4" y="91.9" width="58.3" height="39.0" fill="#FFFFD8" stroke="#222" stroke-width="1.4" rx="0" />
<path d="M673.5,93.5 C675,110 682,121 695,125.5 C706,128.8 718,129.4 730,129.8" fill="none" stroke="#111" stroke-width="1.1"/>
<line x1="683.0" y1="130.9" x2="683.0" y2="129.2" stroke="#000" stroke-width="0.6" />
<line x1="693.0" y1="130.9" x2="693.0" y2="129.2" stroke="#000" stroke-width="0.6" />
<line x1="703.0" y1="130.9" x2="703.0" y2="129.2" stroke="#000" stroke-width="0.6" />
<line x1="713.0" y1="130.9" x2="713.0" y2="129.2" stroke="#000" stroke-width="0.6" />
<line x1="723.0" y1="130.9" x2="723.0" y2="129.2" stroke="#000" stroke-width="0.6" />
<text x="708.0" y="102.0" font-size="12" fill="#000" textLength="42.0" lengthAdjust="spacing" text-anchor="middle" >Iteration</text>
<text x="708.0" y="111.6" font-size="12" fill="#000" textLength="18.0" lengthAdjust="spacing" text-anchor="middle" >loss</text>
<text x="747.3" y="48.0" font-size="15.5" fill="#000" textLength="114.7" lengthAdjust="spacing" >Regression model</text>
<path d="M776.9,53.6 L841.6,53.6 L841.6,63.2 L831.8,73.0 L776.9,73.0 Z" fill="#F0F0F0" stroke="#000" stroke-width="0.9" stroke-linejoin="miter" />
<path d="M774.6,55.6 L839.6,55.6 L839.6,65.2 L829.8,75.0 L774.6,75.0 Z" fill="#F0F0F0" stroke="#000" stroke-width="0.9" stroke-linejoin="miter" />
<path d="M772.3,57.6 L837.7,57.6 L837.7,67.2 L827.9,77.0 L772.3,77.0 Z" fill="#F0F0F0" stroke="#000" stroke-width="0.9" stroke-linejoin="miter" />
<path d="M770.0,59.6 L835.7,59.6 L835.7,69.2 L825.9,79.0 L770.0,79.0 Z" fill="#F0F0F0" stroke="#000" stroke-width="1" stroke-linejoin="miter" />
<path d="M825.9,79.0 L825.9,69.2 L835.7,69.2 Z" fill="#CFCFCF" stroke="#000" stroke-width="0.9" stroke-linejoin="miter" />
<path d="M871.2,53.6 L936.2,53.6 L936.2,63.2 L926.5,73.0 L871.2,73.0 Z" fill="#F0F0F0" stroke="#000" stroke-width="0.9" stroke-linejoin="miter" />
<path d="M868.9,55.6 L934.3,55.6 L934.3,65.2 L924.5,75.0 L868.9,75.0 Z" fill="#F0F0F0" stroke="#000" stroke-width="0.9" stroke-linejoin="miter" />
<path d="M866.6,57.6 L932.4,57.6 L932.4,67.2 L922.6,77.0 L866.6,77.0 Z" fill="#F0F0F0" stroke="#000" stroke-width="0.9" stroke-linejoin="miter" />
<path d="M864.3,59.6 L930.4,59.6 L930.4,69.2 L920.6,79.0 L864.3,79.0 Z" fill="#F0F0F0" stroke="#000" stroke-width="1" stroke-linejoin="miter" />
<path d="M920.6,79.0 L920.6,69.2 L930.4,69.2 Z" fill="#CFCFCF" stroke="#000" stroke-width="0.9" stroke-linejoin="miter" />
<text x="746.9" y="73.0" font-size="12" fill="#000" textLength="20.6" lengthAdjust="spacing" >70%</text>
<text x="842.2" y="73.0" font-size="12" fill="#000" textLength="20.6" lengthAdjust="spacing" >30%</text>
<text x="783.0" y="74.0" font-size="16.2" fill="#000" textLength="33.4" lengthAdjust="spacing" >Train</text>
<text x="882.4" y="74.0" font-size="16.2" fill="#000" textLength="27.1" lengthAdjust="spacing" >Test</text>
<text x="760.4" y="90.8" font-size="14.5" fill="#000" textLength="85.0" lengthAdjust="spacing" >Model training</text>
<rect x="744.6" y="95.0" width="114.2" height="16.5" fill="none" stroke="#000" stroke-width="1" rx="8.2" />
<rect x="744.6" y="115.6" width="114.2" height="16.4" fill="none" stroke="#000" stroke-width="1" rx="8.2" />
<rect x="862.0" y="96.5" width="75.0" height="32.8" fill="none" stroke="#000" stroke-width="1" rx="6.5" />
<text x="801.7" y="107.3" font-size="12" fill="#000" textLength="106.0" lengthAdjust="spacing" text-anchor="middle" >Gradient enhancement</text>
<text x="801.7" y="128.0" font-size="12" fill="#000" textLength="98.0" lengthAdjust="spacing" text-anchor="middle" >CART model fitting</text>
<text x="899.5" y="110.5" font-size="12" fill="#000" textLength="40.0" lengthAdjust="spacing" text-anchor="middle" >DMatrix</text>
<text x="899.5" y="125.3" font-size="12" fill="#000" textLength="70.0" lengthAdjust="spacing" text-anchor="middle" >object creation</text>
<rect x="490.6" y="161.3" width="458" height="153.2" rx="9" fill="#EEFAE8" stroke="#000" stroke-width="2" stroke-dasharray="19.7 8" stroke-dashoffset="13.5"/>
<path d="M449.5,167.3 L477.0,167.3 L477.0,161.9 L493.7,172.4 L477.0,182.9 L477.0,177.5 L449.5,177.5 Z" fill="#C5E0EE" stroke="#75848F" stroke-width="1" stroke-linejoin="miter" />
<text x="498.0" y="179.5" font-size="21" fill="#000" textLength="157.0" lengthAdjust="spacing" >Curve optimization</text>
<text x="554" y="201" font-size="18" font-style="italic" textLength="113" lengthAdjust="spacing">P<tspan font-size="11.5" font-style="normal" dy="3">cut</tspan><tspan dy="-3" font-style="normal"> = </tspan>f &#8242;(MMR)</text>
<rect x="498.0" y="192.3" width="18.0" height="101.3" fill="#F1FBEC" stroke="#000" stroke-width="1" rx="9" />
<text transform="translate(512.5,290.5) rotate(-90)" font-size="15" textLength="92.5" lengthAdjust="spacing">Enhanced data</text>
<rect x="525.8" y="213.5" width="26.2" height="21.5" fill="#D4DDBF" stroke="#3A3A3A" stroke-width="1.4" rx="1.5" />
<rect x="574.6" y="213.5" width="46.4" height="21.5" fill="#D4DDBF" stroke="#3A3A3A" stroke-width="1.4" rx="1.5" />
<rect x="643.7" y="213.5" width="56.7" height="21.5" fill="#D4DDBF" stroke="#3A3A3A" stroke-width="1.4" rx="1.5" />
<text x="529.3" y="231.5" font-size="19">R<tspan font-size="13" dy="-8.3">2</tspan></text>
<text x="597.8" y="231.0" font-size="19" fill="#000" textLength="41.0" lengthAdjust="spacing" text-anchor="middle" >MAE</text>
<text x="672.0" y="231.0" font-size="19" fill="#000" textLength="50.0" lengthAdjust="spacing" text-anchor="middle" >RMSE</text>
<line x1="559.8" y1="220.0" x2="559.8" y2="232.4" stroke="#000" stroke-width="1.7" />
<path d="M559.8,213.3 L556.1,222.3 L563.5,222.3 Z" fill="#000" stroke="none" stroke-width="0" stroke-linejoin="miter" />
<line x1="630.5" y1="216.0" x2="630.5" y2="228.0" stroke="#000" stroke-width="1.7" />
<path d="M630.5,235.0 L626.8,226.0 L634.2,226.0 Z" fill="#000" stroke="none" stroke-width="0" stroke-linejoin="miter" />
<line x1="704.2" y1="216.0" x2="704.2" y2="228.0" stroke="#000" stroke-width="1.7" />
<path d="M704.2,235.0 L700.5,226.0 L707.9,226.0 Z" fill="#000" stroke="none" stroke-width="0" stroke-linejoin="miter" />
<rect x="536.0" y="243.7" width="152.0" height="18.9" fill="#D4DDBF" stroke="#3A3A3A" stroke-width="1.4" rx="0" />
<text x="612.0" y="258.8" font-size="18" fill="#000" textLength="132.0" lengthAdjust="spacing" text-anchor="middle" >Test set validation</text>
<rect x="527.7" y="271.7" width="168.2" height="36.3" fill="#D4DDBF" stroke="#3A3A3A" stroke-width="1.4" rx="0" />
<text x="611.8" y="286.6" font-size="18" fill="#000" textLength="138.0" lengthAdjust="spacing" text-anchor="middle" >Analysis of cutting</text>
<text x="611.8" y="302.5" font-size="18" fill="#000" textLength="98.0" lengthAdjust="spacing" text-anchor="middle" >power factors</text>
<line x1="701.6" y1="259.6" x2="701.6" y2="283.0" stroke="#000" stroke-width="1.7" />
<path d="M701.6,290.6 L697.8,281.1 L705.4,281.1 Z" fill="#000" stroke="none" stroke-width="0" stroke-linejoin="miter" />
<line x1="718.6" y1="168.0" x2="718.6" y2="309.0" stroke="#333" stroke-width="1.2" stroke-dasharray="7 3.5"/>
<text x="796.0" y="179.5" font-size="21" fill="#000" textLength="145.7" lengthAdjust="spacing" >Energy prediction</text>
<rect x="725.5" y="181.3" width="93.7" height="73.9" fill="#F4FCF0" stroke="#111" stroke-width="1.2" rx="0" />
<line x1="737.7" y1="183.5" x2="737.7" y2="245.0" stroke="#666" stroke-width="0.6" />
<line x1="737.7" y1="245.0" x2="817.0" y2="245.0" stroke="#666" stroke-width="0.6" />
<line x1="749.0" y1="222.0" x2="749.0" y2="245.0" stroke="#AAB0A0" stroke-width="0.5" />
<line x1="761.0" y1="222.0" x2="761.0" y2="245.0" stroke="#AAB0A0" stroke-width="0.5" />
<line x1="773.0" y1="222.0" x2="773.0" y2="245.0" stroke="#AAB0A0" stroke-width="0.5" />
<line x1="803.5" y1="222.0" x2="803.5" y2="245.0" stroke="#AAB0A0" stroke-width="0.5" />
<line x1="810.0" y1="222.0" x2="810.0" y2="245.0" stroke="#AAB0A0" stroke-width="0.5" />
<path d="M737.7,232.5 L740.0,232.5 L740.6,189.0 L741.2,188.5 L742.0,226.0 L743.0,224.6 L749.0,224.6 L753.6,220.2 L771.0,220.2 L771.3,216.3 L785.4,216.3 L785.8,220.2 L789.0,220.2 L794.0,224.6 L803.0,224.6 L803.5,189.0 L804.2,188.5 L805.5,234.0 L806.5,232.5 L816.3,232.5" fill="none" stroke="#E8706C" stroke-width="1.0" stroke-linejoin="miter" stroke-linejoin="round" opacity="0.85"/>
<path d="M737.7,232.3 L740.3,232.3 L741.0,203.0 L741.5,199.0 L742.2,224.3 L749.0,224.3 L753.6,220.0 L771.2,220.0 L771.5,217.0 L785.3,217.0 L785.7,220.0 L789.0,220.0 L794.0,224.3 L803.3,224.3 L804.0,201.0 L804.8,203.0 L805.8,232.3 L816.3,232.3" fill="none" stroke="#5F5CE2" stroke-width="0.9" stroke-linejoin="miter" stroke-linejoin="round"/>
<line x1="741.3" y1="200.0" x2="741.3" y2="226.0" stroke="#6A62E0" stroke-width="1.5" opacity="0.55"/>
<line x1="804.4" y1="200.0" x2="804.4" y2="226.0" stroke="#6A62E0" stroke-width="1.5" opacity="0.55"/>
<rect x="749.0" y="191.0" width="51.4" height="17.7" fill="#F4FCF0" stroke="#777" stroke-width="0.5" rx="0" />
<path d="M752.0,196.9 L752.9,198.6 L753.8,199.8 L754.7,196.2 L755.6,197.6 L756.5,198.4 L757.4,194.8 L758.3,196.6 L759.2,197.8 L760.1,200.1 L761.0,195.2 L761.9,195.3 L762.8,194.2 L763.7,198.5 L764.6,197.7 L765.5,195.0 L766.4,199.7 L767.3,200.4 L768.2,198.2 L769.1,197.4 L770.0,195.6 L770.9,193.5 L771.8,197.8 L772.7,193.7 L773.6,195.2 L774.5,195.1 L775.4,193.8 L776.3,198.0 L777.2,197.5 L778.1,199.1 L779.0,198.2 L779.9,197.6 L780.8,197.1 L781.7,199.0 L782.6,197.3 L783.5,195.1 L784.4,201.5 L785.3,199.9 L786.2,199.0 L787.1,199.2 L788.0,195.8 L788.9,195.2 L789.8,195.1 L790.7,193.7 L791.6,199.2 L792.5,196.1 L793.4,199.7 L794.3,196.3 L795.2,200.1 L796.1,200.4 L797.0,194.1 L797.9,195.6 L798.8,200.7" fill="none" stroke="#E8706C" stroke-width="0.7" stroke-linejoin="miter" opacity="0.9"/>
<path d="M752.0,197.0 L752.9,197.7 L753.8,200.0 L754.7,197.1 L755.6,197.4 L756.5,197.9 L757.4,195.3 L758.3,197.4 L759.2,198.1 L760.1,199.2 L761.0,194.7 L761.9,196.0 L762.8,194.7 L763.7,199.3 L764.6,198.5 L765.5,194.4 L766.4,200.4 L767.3,200.3 L768.2,198.3 L769.1,198.0 L770.0,195.1 L770.9,194.2 L771.8,197.5 L772.7,194.5 L773.6,195.3 L774.5,195.6 L775.4,194.3 L776.3,197.1 L777.2,196.9 L778.1,199.5 L779.0,197.4 L779.9,198.2 L780.8,197.3 L781.7,198.3 L782.6,197.0 L783.5,195.9 L784.4,200.5 L785.3,200.5 L786.2,199.5 L787.1,198.6 L788.0,196.1 L788.9,195.6 L789.8,195.9 L790.7,194.5 L791.6,199.0 L792.5,196.7 L793.4,199.5 L794.3,196.6 L795.2,200.2 L796.1,199.5 L797.0,194.1 L797.9,195.4 L798.8,199.9" fill="none" stroke="#6A60D8" stroke-width="0.55" stroke-linejoin="miter" />
<text x="754.5" y="212.0" font-size="2.4" fill="#666" text-anchor="middle" >130</text>
<text x="765.0" y="212.0" font-size="2.4" fill="#666" text-anchor="middle" >140</text>
<text x="776.0" y="212.0" font-size="2.4" fill="#666" text-anchor="middle" >150</text>
<text x="787.0" y="212.0" font-size="2.4" fill="#666" text-anchor="middle" >160</text>
<text x="797.0" y="212.0" font-size="2.4" fill="#666" text-anchor="middle" >170</text>
<text x="748.0" y="193.5" font-size="2.2" fill="#666" text-anchor="end" >3375</text>
<text x="748.0" y="197.5" font-size="2.2" fill="#666" text-anchor="end" >3350</text>
<text x="748.0" y="201.5" font-size="2.2" fill="#666" text-anchor="end" >3325</text>
<text x="748.0" y="205.5" font-size="2.2" fill="#666" text-anchor="end" >3300</text>
<line x1="751.5" y1="186.3" x2="757.0" y2="186.3" stroke="#E5736E" stroke-width="0.6" />
<line x1="775.5" y1="186.3" x2="781.0" y2="186.3" stroke="#6A60D8" stroke-width="0.6" />
<text x="759.5" y="187.5" font-size="3.2" fill="#555" >Measured</text>
<text x="783.5" y="187.5" font-size="3.2" fill="#555" >Predicted</text>
<text x="777.0" y="253.0" font-size="3.4" fill="#555" text-anchor="middle" >Sample point/#</text>
<line x1="738.0" y1="245.0" x2="738.0" y2="246.0" stroke="#666" stroke-width="0.4" />
<text x="738.0" y="249.3" font-size="2.6" fill="#666" text-anchor="middle" >0</text>
<line x1="745.5" y1="245.0" x2="745.5" y2="246.0" stroke="#666" stroke-width="0.4" />
<text x="745.5" y="249.3" font-size="2.6" fill="#666" text-anchor="middle" >50</text>
<line x1="752.5" y1="245.0" x2="752.5" y2="246.0" stroke="#666" stroke-width="0.4" />
<text x="752.5" y="249.3" font-size="2.6" fill="#666" text-anchor="middle" >100</text>
<line x1="760.0" y1="245.0" x2="760.0" y2="246.0" stroke="#666" stroke-width="0.4" />
<text x="760.0" y="249.3" font-size="2.6" fill="#666" text-anchor="middle" >150</text>
<line x1="767.0" y1="245.0" x2="767.0" y2="246.0" stroke="#666" stroke-width="0.4" />
<text x="767.0" y="249.3" font-size="2.6" fill="#666" text-anchor="middle" >200</text>
<line x1="774.5" y1="245.0" x2="774.5" y2="246.0" stroke="#666" stroke-width="0.4" />
<text x="774.5" y="249.3" font-size="2.6" fill="#666" text-anchor="middle" >250</text>
<line x1="782.0" y1="245.0" x2="782.0" y2="246.0" stroke="#666" stroke-width="0.4" />
<text x="782.0" y="249.3" font-size="2.6" fill="#666" text-anchor="middle" >300</text>
<line x1="789.0" y1="245.0" x2="789.0" y2="246.0" stroke="#666" stroke-width="0.4" />
<text x="789.0" y="249.3" font-size="2.6" fill="#666" text-anchor="middle" >350</text>
<line x1="796.5" y1="245.0" x2="796.5" y2="246.0" stroke="#666" stroke-width="0.4" />
<text x="796.5" y="249.3" font-size="2.6" fill="#666" text-anchor="middle" >400</text>
<line x1="804.0" y1="245.0" x2="804.0" y2="246.0" stroke="#666" stroke-width="0.4" />
<text x="804.0" y="249.3" font-size="2.6" fill="#666" text-anchor="middle" >450</text>
<line x1="811.0" y1="245.0" x2="811.0" y2="246.0" stroke="#666" stroke-width="0.4" />
<text x="811.0" y="249.3" font-size="2.6" fill="#666" text-anchor="middle" >500</text>
<line x1="816.5" y1="245.0" x2="816.5" y2="246.0" stroke="#666" stroke-width="0.4" />
<text x="816.5" y="249.3" font-size="2.6" fill="#666" text-anchor="middle" >550</text>
<text x="736.5" y="189.5" font-size="2.6" fill="#666" text-anchor="end" >4000</text>
<text x="736.5" y="203.5" font-size="2.6" fill="#666" text-anchor="end" >3000</text>
<text x="736.5" y="217.5" font-size="2.6" fill="#666" text-anchor="end" >2000</text>
<text x="736.5" y="231.8" font-size="2.6" fill="#666" text-anchor="end" >1000</text>
<text transform="translate(729.5,213) rotate(-90)" font-size="3" text-anchor="middle" fill="#555">Power/W</text>
<rect x="820.9" y="186.5" width="122.5" height="17.0" fill="#F6F0CB" stroke="#000" stroke-width="1.1" rx="8.5" />
<text x="884.3" y="199.8" font-size="15.5" fill="#000" textLength="110.0" lengthAdjust="spacing" text-anchor="middle" >Power prediction</text>
<rect x="836.0" y="211.2" width="93.8" height="17.2" fill="#F6F0CB" stroke="#000" stroke-width="1.1" rx="8.6" />
<text x="883.7" y="224.6" font-size="15.5" fill="#000" textLength="90.5" lengthAdjust="spacing" text-anchor="middle" >Stage division</text>
<rect x="830.5" y="236.4" width="105.9" height="17.1" fill="#F6F0CB" stroke="#000" stroke-width="1.1" rx="8.5" />
<text x="884.2" y="249.8" font-size="15.5" fill="#000" textLength="103.0" lengthAdjust="spacing" text-anchor="middle" >Energy analysis</text>
<rect x="723.0" y="258.8" width="95.8" height="16.7" fill="#F6F0CB" stroke="#000" stroke-width="1.1" rx="8.3" />
<text x="771.0" y="270.8" font-size="13" fill="#000" textLength="90.0" lengthAdjust="spacing" text-anchor="middle" >Model comparison</text>
<rect x="726.2" y="279.0" width="89.5" height="28.3" fill="#F6F0CB" stroke="#000" stroke-width="1.1" rx="3.5" />
<text x="771.0" y="289.7" font-size="12.5" fill="#000" textLength="80.5" lengthAdjust="spacing" text-anchor="middle" >Ensemble model</text>
<text x="771.0" y="304.5" font-size="12.5" fill="#000" textLength="70.5" lengthAdjust="spacing" text-anchor="middle" >Data enhanced</text>
<rect x="820.3" y="254.8" width="118.0" height="54.9" fill="#F4FCF0" stroke="#333" stroke-width="1.4" rx="0" />
<line x1="834.0" y1="258.2" x2="936.5" y2="258.2" stroke="#C8CCC0" stroke-width="0.5" stroke-dasharray="1.5 1.5"/>
<line x1="834.0" y1="269.8" x2="936.5" y2="269.8" stroke="#C8CCC0" stroke-width="0.5" stroke-dasharray="1.5 1.5"/>
<line x1="834.0" y1="280.3" x2="936.5" y2="280.3" stroke="#C8CCC0" stroke-width="0.5" stroke-dasharray="1.5 1.5"/>
<line x1="834.0" y1="291.6" x2="936.5" y2="291.6" stroke="#C8CCC0" stroke-width="0.5" stroke-dasharray="1.5 1.5"/>
<line x1="833.8" y1="257.5" x2="833.8" y2="302.6" stroke="#888" stroke-width="0.6" />
<line x1="833.8" y1="302.4" x2="936.5" y2="302.4" stroke="#888" stroke-width="0.6" />
<rect x="837.3" y="273.0" width="7.7" height="6.0" fill="#F4788E"/>
<line x1="839.0" y1="276.2" x2="843.3" y2="276.2" stroke="#444" stroke-width="0.7" opacity="0.35"/>
<rect x="837.3" y="279.0" width="7.7" height="3.0" fill="#D6BB98"/>
<rect x="837.3" y="282.0" width="7.7" height="8.0" fill="#E67DC6"/>
<line x1="839.0" y1="286.2" x2="843.3" y2="286.2" stroke="#444" stroke-width="0.7" opacity="0.35"/>
<rect x="837.3" y="290.0" width="7.7" height="12.3" fill="#3DB4EE"/>
<line x1="839.0" y1="296.3" x2="843.3" y2="296.3" stroke="#444" stroke-width="0.7" opacity="0.35"/>
<line x1="837.8" y1="271.2" x2="844.5" y2="271.2" stroke="#555" stroke-width="0.8" opacity="0.45"/>
<text x="841.1" y="307.3" font-size="3.2" fill="#444" text-anchor="middle" >1</text>
<rect x="851.6" y="262.7" width="7.8" height="19.8" fill="#F4788E"/>
<line x1="853.3" y1="272.8" x2="857.7" y2="272.8" stroke="#444" stroke-width="0.7" opacity="0.35"/>
<rect x="851.6" y="282.5" width="7.8" height="1.9" fill="#D6BB98"/>
<rect x="851.6" y="284.4" width="7.8" height="10.0" fill="#E67DC6"/>
<line x1="853.3" y1="289.6" x2="857.7" y2="289.6" stroke="#444" stroke-width="0.7" opacity="0.35"/>
<rect x="851.6" y="294.4" width="7.8" height="7.9" fill="#3DB4EE"/>
<line x1="853.3" y1="298.6" x2="857.7" y2="298.6" stroke="#444" stroke-width="0.7" opacity="0.35"/>
<line x1="852.1" y1="260.9" x2="858.9" y2="260.9" stroke="#555" stroke-width="0.8" opacity="0.45"/>
<text x="855.5" y="307.3" font-size="3.2" fill="#444" text-anchor="middle" >2</text>
<rect x="866.2" y="276.0" width="7.8" height="6.0" fill="#F4788E"/>
<line x1="867.9" y1="279.2" x2="872.3" y2="279.2" stroke="#444" stroke-width="0.7" opacity="0.35"/>
<rect x="866.2" y="282.0" width="7.8" height="3.8" fill="#D6BB98"/>
<rect x="866.2" y="285.8" width="7.8" height="6.5" fill="#E67DC6"/>
<line x1="867.9" y1="289.2" x2="872.3" y2="289.2" stroke="#444" stroke-width="0.7" opacity="0.35"/>
<rect x="866.2" y="292.3" width="7.8" height="10.0" fill="#3DB4EE"/>
<line x1="867.9" y1="297.5" x2="872.3" y2="297.5" stroke="#444" stroke-width="0.7" opacity="0.35"/>
<line x1="866.7" y1="274.2" x2="873.5" y2="274.2" stroke="#555" stroke-width="0.8" opacity="0.45"/>
<text x="870.1" y="307.3" font-size="3.2" fill="#444" text-anchor="middle" >3</text>
<rect x="880.5" y="267.8" width="8.0" height="15.0" fill="#F4788E"/>
<line x1="882.2" y1="275.5" x2="886.8" y2="275.5" stroke="#444" stroke-width="0.7" opacity="0.35"/>
<rect x="880.5" y="282.8" width="8.0" height="2.7" fill="#D6BB98"/>
<rect x="880.5" y="285.5" width="8.0" height="8.5" fill="#E67DC6"/>
<line x1="882.2" y1="289.9" x2="886.8" y2="289.9" stroke="#444" stroke-width="0.7" opacity="0.35"/>
<rect x="880.5" y="294.0" width="8.0" height="8.3" fill="#3DB4EE"/>
<line x1="882.2" y1="298.3" x2="886.8" y2="298.3" stroke="#444" stroke-width="0.7" opacity="0.35"/>
<line x1="881.0" y1="266.0" x2="888.0" y2="266.0" stroke="#555" stroke-width="0.8" opacity="0.45"/>
<text x="884.5" y="307.3" font-size="3.2" fill="#444" text-anchor="middle" >4</text>
<rect x="895.2" y="273.0" width="7.6" height="10.2" fill="#F4788E"/>
<line x1="896.9" y1="278.3" x2="901.1" y2="278.3" stroke="#444" stroke-width="0.7" opacity="0.35"/>
<rect x="895.2" y="283.2" width="7.6" height="2.6" fill="#D6BB98"/>
<rect x="895.2" y="285.8" width="7.6" height="10.2" fill="#E67DC6"/>
<line x1="896.9" y1="291.1" x2="901.1" y2="291.1" stroke="#444" stroke-width="0.7" opacity="0.35"/>
<rect x="895.2" y="296.0" width="7.6" height="6.3" fill="#3DB4EE"/>
<line x1="896.9" y1="299.3" x2="901.1" y2="299.3" stroke="#444" stroke-width="0.7" opacity="0.35"/>
<line x1="895.7" y1="271.2" x2="902.3" y2="271.2" stroke="#555" stroke-width="0.8" opacity="0.45"/>
<text x="899.0" y="307.3" font-size="3.2" fill="#444" text-anchor="middle" >5</text>
<rect x="909.6" y="276.4" width="7.8" height="5.6" fill="#F4788E"/>
<line x1="911.3" y1="279.4" x2="915.7" y2="279.4" stroke="#444" stroke-width="0.7" opacity="0.35"/>
<rect x="909.6" y="282.0" width="7.8" height="2.0" fill="#D6BB98"/>
<rect x="909.6" y="284.0" width="7.8" height="8.6" fill="#E67DC6"/>
<line x1="911.3" y1="288.5" x2="915.7" y2="288.5" stroke="#444" stroke-width="0.7" opacity="0.35"/>
<rect x="909.6" y="292.6" width="7.8" height="9.7" fill="#3DB4EE"/>
<line x1="911.3" y1="297.7" x2="915.7" y2="297.7" stroke="#444" stroke-width="0.7" opacity="0.35"/>
<line x1="910.1" y1="274.6" x2="916.9" y2="274.6" stroke="#555" stroke-width="0.8" opacity="0.45"/>
<text x="913.5" y="307.3" font-size="3.2" fill="#444" text-anchor="middle" >6</text>
<rect x="924.2" y="266.0" width="7.8" height="13.4" fill="#F4788E"/>
<line x1="925.9" y1="272.9" x2="930.3" y2="272.9" stroke="#444" stroke-width="0.7" opacity="0.35"/>
<rect x="924.2" y="279.4" width="7.8" height="3.6" fill="#D6BB98"/>
<rect x="924.2" y="283.0" width="7.8" height="8.2" fill="#E67DC6"/>
<line x1="925.9" y1="287.3" x2="930.3" y2="287.3" stroke="#444" stroke-width="0.7" opacity="0.35"/>
<rect x="924.2" y="291.2" width="7.8" height="11.1" fill="#3DB4EE"/>
<line x1="925.9" y1="296.9" x2="930.3" y2="296.9" stroke="#444" stroke-width="0.7" opacity="0.35"/>
<line x1="924.7" y1="264.2" x2="931.5" y2="264.2" stroke="#555" stroke-width="0.8" opacity="0.45"/>
<text x="928.1" y="307.3" font-size="3.2" fill="#444" text-anchor="middle" >7</text>
<text x="832.8" y="259.2" font-size="2.8" fill="#666" text-anchor="end" >20000</text>
<text x="832.8" y="270.8" font-size="2.8" fill="#666" text-anchor="end" >15000</text>
<text x="832.8" y="281.3" font-size="2.8" fill="#666" text-anchor="end" >10000</text>
<text x="832.8" y="292.6" font-size="2.8" fill="#666" text-anchor="end" >5000</text>
<text x="832.8" y="303.3" font-size="2.8" fill="#666" text-anchor="end" >0</text>
<text transform="translate(824.5,281) rotate(-90)" font-size="3.2" text-anchor="middle" fill="#666">Energy consumption/J</text>
<path d="M769.7,327.3 L793.0,327.3 L781.4,315.8 Z" fill="#FBD5B5" stroke="#E9782B" stroke-width="1" stroke-linejoin="miter" />
<path d="M882.0,327.3 L905.4,327.3 L893.7,315.8 Z" fill="#FBD5B5" stroke="#E9782B" stroke-width="1" stroke-linejoin="miter" />
<rect x="490.0" y="329.8" width="458.0" height="137.2" fill="#fff" stroke="#E9782B" stroke-width="1.8" rx="0" />
<rect x="500.3" y="338.0" width="106.9" height="106.6" fill="#FDEDF8" stroke="#7F7F7F" stroke-width="1.8" rx="0" />
<rect x="515.4" y="350.0" width="106.9" height="106.7" fill="#FDEDF8" stroke="#7F7F7F" stroke-width="1.8" rx="0" />
<rect x="540.0" y="344.0" width="107.2" height="107.0" fill="#FDEDF8" stroke="#7F7F7F" stroke-width="1.8" rx="0" />
<rect x="574.4" y="352.8" width="107.2" height="107.2" fill="#FDEDF8" stroke="#7F7F7F" stroke-width="1.8" rx="0" />
<rect x="795.0" y="348.9" width="107.5" height="106.5" fill="#E6F9FF" stroke="#7F7F7F" stroke-width="1.8" rx="0" />
<rect x="829.4" y="354.4" width="107.6" height="106.6" fill="#E6F9FF" stroke="#7F7F7F" stroke-width="1.8" rx="0" />
<path d="M500.3,396.0 C500.8,395.6 502.1,395.8 503.0,393.8 C503.9,391.8 504.8,386.3 506.0,384.0 C507.2,381.7 508.6,381.0 510.0,380.0 C511.4,379.0 512.7,377.7 514.4,378.0 C516.1,378.3 518.1,380.6 520.0,382.0 C521.9,383.4 524.2,386.8 526.0,386.5 C527.8,386.2 529.4,382.6 531.0,380.0 C532.6,377.4 534.4,371.6 535.7,370.8 C537.0,370.0 537.9,373.6 539.0,375.0 C540.1,376.4 540.7,378.6 542.3,379.0 C543.9,379.4 546.9,377.1 548.8,377.4 C550.7,377.7 552.3,380.3 553.8,380.6 C555.3,380.9 556.6,378.7 558.0,379.0 C559.4,379.3 560.4,382.6 562.0,382.3 C563.6,382.0 566.1,377.4 567.9,377.4 C569.7,377.3 571.2,380.4 573.0,382.0 C574.8,383.6 576.6,387.9 578.4,387.2 C580.2,386.5 582.2,381.9 584.0,378.0 C585.8,374.1 587.5,367.2 589.0,364.0 C590.5,360.8 591.7,358.7 593.0,358.7 C594.3,358.7 595.2,360.1 597.0,364.0 C598.8,367.9 601.9,377.9 604.0,382.0 C606.1,386.1 607.8,388.6 609.5,388.8 C611.2,389.0 612.6,385.5 614.0,383.0 C615.4,380.5 616.8,376.2 618.0,374.0 C619.2,371.8 620.0,369.5 621.0,369.8 C622.0,370.1 622.9,375.0 624.3,375.7 C625.7,376.4 627.3,373.4 629.2,374.0 C631.1,374.6 633.2,379.3 635.7,379.0 C638.2,378.7 641.3,372.2 644.0,372.4 C646.7,372.6 649.4,377.3 652.0,380.0 C654.6,382.7 657.5,388.5 659.7,388.8 C661.9,389.1 663.0,386.1 665.0,382.0 C667.0,377.9 669.8,369.0 672.0,364.0 C674.2,359.0 676.4,352.8 678.4,351.8 C680.4,350.8 681.7,353.3 684.0,358.0 C686.3,362.7 689.3,373.5 692.0,380.0 C694.7,386.5 697.6,393.2 700.0,397.0 C702.4,400.8 704.5,402.6 706.2,402.6 C707.9,402.6 708.6,399.3 710.0,397.0 C711.4,394.7 712.8,390.4 714.4,388.8 C716.0,387.2 717.4,388.6 719.6,387.2 C721.8,385.8 725.1,381.3 727.8,380.7 C730.5,380.1 733.6,383.9 736.0,383.3 C738.4,382.7 739.7,380.9 742.0,377.0 C744.3,373.1 747.5,364.2 750.0,360.0 C752.5,355.8 755.1,351.8 757.3,351.8 C759.5,351.8 760.7,355.1 763.0,360.0 C765.3,364.9 768.5,375.9 771.0,381.0 C773.5,386.1 776.2,389.8 778.0,390.5 C779.8,391.2 780.5,388.0 782.0,385.0 C783.5,382.0 785.6,373.7 786.8,372.5 C788.0,371.3 787.8,378.1 789.0,378.0 C790.2,377.9 792.2,373.8 794.0,372.0 C795.8,370.2 798.2,366.8 800.0,367.5 C801.8,368.2 803.2,372.4 805.0,376.0 C806.8,379.6 809.0,387.5 810.7,388.8 C812.4,390.1 813.3,387.1 815.0,384.0 C816.7,380.9 819.4,373.0 821.0,370.0 C822.6,367.0 823.2,365.5 824.5,366.0 C825.8,366.5 827.4,370.7 829.0,373.0 C830.6,375.3 832.6,379.5 834.3,380.0 C836.0,380.5 837.4,377.0 839.0,376.0 C840.6,375.0 841.5,374.3 844.0,374.0 C846.5,373.7 851.3,372.8 854.0,374.0 C856.7,375.2 857.8,377.2 860.0,381.0 C862.2,384.8 865.0,393.4 867.0,397.0 C869.0,400.6 870.5,402.6 872.0,402.6 C873.5,402.6 874.7,400.3 876.0,397.0 C877.3,393.7 878.8,386.7 880.0,383.0 C881.2,379.3 881.8,375.4 883.5,375.0 C885.2,374.6 887.8,380.6 890.0,380.7 C892.2,380.8 894.1,375.8 896.6,375.7 C899.1,375.6 902.7,380.6 904.8,380.0 C906.9,379.4 907.5,376.7 909.0,372.0 C910.5,367.3 912.3,356.4 914.0,352.0 C915.7,347.6 917.3,345.9 919.0,345.6 C920.7,345.3 922.2,347.6 924.0,350.0 C925.8,352.4 927.8,357.1 930.0,360.0 C932.2,362.9 935.8,366.2 937.0,367.5" fill="none" stroke="#8C4E9E" stroke-width="1.6" stroke-linecap="round" stroke-linejoin="round" />
<path d="M500.3,417.7 C501.1,417.2 503.5,415.7 505.0,415.0 C506.5,414.3 508.2,412.9 509.5,413.4 C510.8,413.9 511.8,416.2 513.0,418.0 C514.2,419.8 515.5,424.0 516.7,424.3 C517.9,424.6 518.7,421.6 520.0,420.0 C521.3,418.4 523.0,415.0 524.3,415.0 C525.5,415.0 526.1,419.3 527.5,420.0 C528.9,420.7 530.9,419.1 532.5,419.3 C534.1,419.5 536.0,421.9 537.4,421.0 C538.8,420.1 539.6,416.2 541.0,414.0 C542.4,411.8 544.1,407.9 545.6,407.9 C547.1,407.9 548.4,410.6 550.0,414.0 C551.6,417.4 553.7,424.9 555.0,428.0 C556.3,431.1 557.0,432.7 558.0,432.5 C559.0,432.3 559.7,429.4 561.0,427.0 C562.3,424.6 564.6,419.3 565.9,418.4 C567.1,417.5 567.0,421.5 568.5,421.6 C570.0,421.8 572.8,419.3 575.0,419.3 C577.2,419.3 579.4,421.6 581.6,421.6 C583.8,421.6 586.0,419.0 588.2,419.3 C590.4,419.6 592.8,423.7 594.8,423.3 C596.8,422.9 598.3,419.4 600.0,417.0 C601.7,414.6 603.2,410.9 605.0,409.0 C606.8,407.1 608.7,405.7 610.5,405.9 C612.3,406.1 613.9,407.0 616.0,410.0 C618.1,413.0 620.6,419.2 623.0,424.0 C625.4,428.8 628.2,437.4 630.2,438.7 C632.2,440.0 633.2,434.4 635.0,432.0 C636.8,429.6 638.4,425.2 640.7,424.3 C643.0,423.4 646.5,426.8 648.9,426.6 C651.3,426.4 653.1,423.9 655.0,423.0 C656.9,422.1 658.6,420.8 660.3,421.0 C662.0,421.2 663.4,423.1 665.0,424.0 C666.6,424.9 668.7,426.5 670.2,426.6 C671.7,426.7 672.6,425.3 674.0,424.5 C675.4,423.7 676.9,424.0 678.4,421.6 C679.9,419.2 681.5,413.3 683.0,410.0 C684.5,406.7 685.9,402.3 687.2,402.0 C688.5,401.7 689.4,403.8 691.0,408.0 C692.6,412.2 695.1,422.7 697.0,427.0 C698.9,431.3 700.6,433.8 702.3,434.0 C704.0,434.2 705.2,431.7 707.0,428.0 C708.8,424.3 711.3,415.7 713.0,412.0 C714.7,408.3 715.8,405.7 717.0,405.9 C718.2,406.1 719.0,410.6 720.0,413.0 C721.0,415.4 721.6,419.3 722.8,420.0 C724.0,420.7 725.4,417.8 727.0,417.0 C728.6,416.2 730.4,415.1 732.7,415.0 C735.0,414.9 738.7,417.0 740.9,416.7 C743.1,416.4 744.1,414.1 746.0,413.0 C747.9,411.9 750.5,410.0 752.3,410.0 C754.1,410.0 755.4,412.2 757.0,413.0 C758.6,413.8 760.4,415.5 762.2,415.0 C764.0,414.5 766.1,411.2 768.0,410.0 C769.9,408.8 771.9,407.2 773.7,407.9 C775.5,408.6 777.0,410.5 779.0,414.0 C781.0,417.5 784.0,425.7 786.0,429.0 C788.0,432.3 789.5,434.3 791.0,434.0 C792.5,433.7 793.3,431.2 795.0,427.0 C796.7,422.8 799.2,412.9 801.0,409.0 C802.8,405.1 804.0,403.4 805.5,403.6 C807.0,403.8 808.4,407.9 810.0,410.0 C811.6,412.1 813.6,415.8 815.3,416.0 C817.0,416.2 818.5,412.2 820.0,411.0 C821.5,409.8 823.2,407.7 824.5,408.5 C825.8,409.3 826.6,412.9 828.0,416.0 C829.4,419.1 831.2,426.4 832.7,427.2 C834.2,428.0 835.6,424.0 837.0,421.0 C838.4,418.0 840.0,411.2 841.0,409.0 C842.0,406.8 842.5,406.7 843.2,407.9 C843.9,409.1 844.3,412.9 845.0,416.0 C845.7,419.1 846.6,426.1 847.4,426.6 C848.2,427.1 849.1,420.9 850.0,419.0 C850.9,417.1 851.7,414.5 853.0,415.0 C854.3,415.5 856.2,419.6 858.0,422.0 C859.8,424.4 862.0,428.9 863.8,429.2 C865.6,429.5 867.4,425.5 869.0,424.0 C870.6,422.5 872.2,419.8 873.7,420.0 C875.2,420.2 876.4,423.2 878.0,425.0 C879.6,426.8 881.8,431.0 883.5,430.8 C885.2,430.6 886.1,428.3 888.0,424.0 C889.9,419.7 892.6,409.5 895.0,405.0 C897.4,400.5 900.2,397.5 902.5,397.0 C904.8,396.5 906.6,398.3 909.0,402.0 C911.4,405.7 914.7,415.3 917.0,419.0 C919.3,422.7 921.0,424.3 922.8,424.3 C924.6,424.3 926.3,421.2 928.0,419.0 C929.7,416.8 931.5,412.8 933.0,411.0 C934.5,409.2 936.3,408.9 937.0,408.5" fill="none" stroke="#D51F62" stroke-width="1.6" stroke-linecap="round" stroke-linejoin="round" />
<text x="647.8" y="352.0" font-size="23.5" fill="#000" textLength="158.0" lengthAdjust="spacing" >Timing Window</text>
<text x="638.3" y="457.7" font-size="20" fill="#000" textLength="152.0" lengthAdjust="spacing" >Testing time series</text>
</svg></body></html>
